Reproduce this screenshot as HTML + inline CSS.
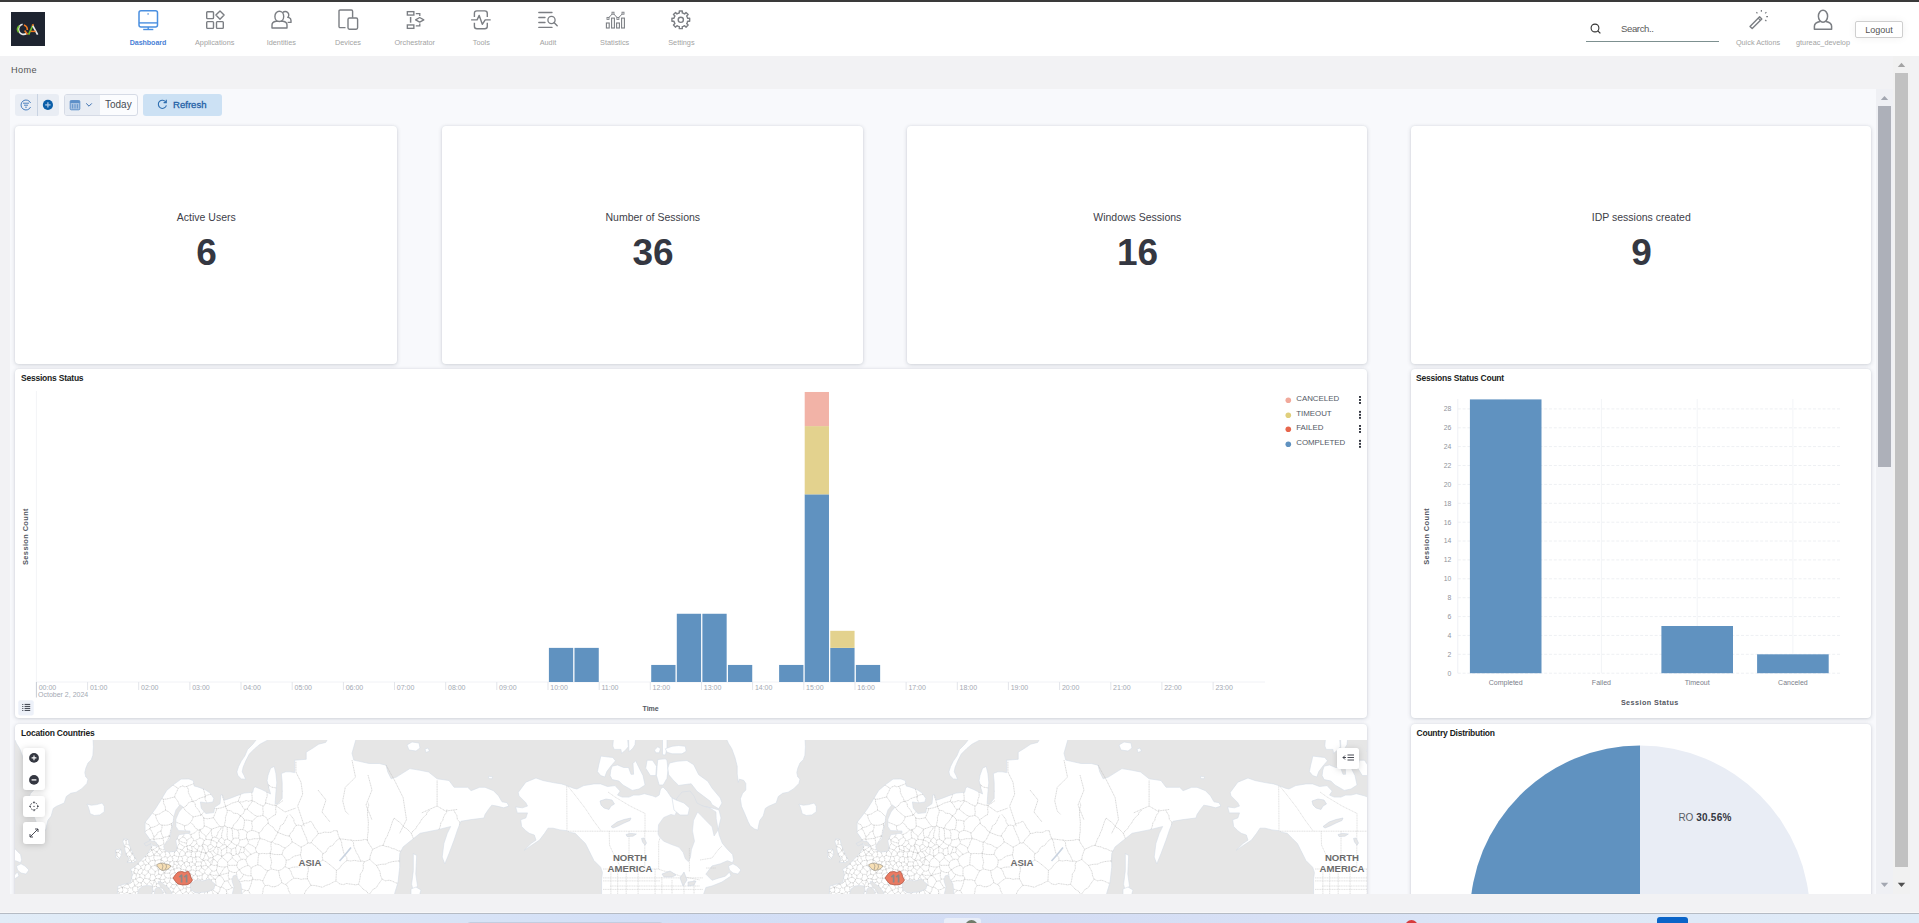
<!DOCTYPE html><html><head><meta charset="utf-8"><title>Dashboard</title><style>

*{box-sizing:border-box;margin:0;padding:0}
html,body{width:1919px;height:923px;overflow:hidden;background:#f2f2f4;font-family:"Liberation Sans",sans-serif;color:#343741}
.a{position:absolute}
.nl{position:absolute;top:37.8px;width:66px;text-align:center;font-size:7.3px;line-height:9px;color:#9a9a9a;white-space:nowrap}
.ni{position:absolute;top:9px}
.card{position:absolute;background:#fff;border-radius:4px;box-shadow:0 1px 4px rgba(60,70,90,.2),0 0 2px rgba(60,70,90,.09)}
.stl{position:absolute;left:0;right:0;text-align:center;font-size:11px;line-height:13px;color:#343741}
.stv{position:absolute;left:0;right:0;text-align:center;font-size:37px;line-height:40px;font-weight:bold;color:#343741}
.ct{position:absolute;left:6px;top:3px;font-size:8.5px;font-weight:bold;color:#1a1c21;white-space:nowrap}

</style></head><body>
<div class="a" style="left:0;top:0;width:1919px;height:2px;background:#3a3a3a"></div>
<div class="a" style="left:0;top:2px;width:1919px;height:54px;background:#fff"></div>
<div class="a" style="left:11px;top:12px;width:34px;height:34px;background:#1e2430"></div>
<svg class="a" style="left:11px;top:12px" width="34" height="34" viewBox="0 0 34 34">
<path d="M11.6 12.3 A5.1 5.1 0 1 0 15.5 21.5" fill="none" stroke="#e9e9e9" stroke-width="1.6"/>
<path d="M8.2 13.8 A5.1 5.1 0 0 0 7.6 20.4" fill="none" stroke="#6fbe2c" stroke-width="1.6"/>
<path d="M13 13 A5.1 5.1 0 0 1 16.3 18" fill="none" stroke="#f07a22" stroke-width="1.6"/>
<path d="M13.6 18.6 L16.6 22.4" stroke="#f07a22" stroke-width="1.6"/>
<path d="M17.6 22.6 L22 13" stroke="#6fbe2c" stroke-width="1.7"/>
<path d="M21.6 13.4 L26.6 22.6" stroke="#e9e9e9" stroke-width="1.7"/>
<path d="M19.6 19.4 L24.6 19.4" stroke="#f07a22" stroke-width="1.4"/>
<path d="M21 13.6 L22.6 12.4" stroke="#f07a22" stroke-width="1.4"/>
</svg>
<svg class="ni" style="left:137.8px" width="22" height="22" viewBox="0 0 22 22"><g transform="translate(0 0.7)"><rect x="1" y="1" width="18.5" height="16.2" rx="2" fill="none" stroke="#4a8fe0" stroke-width="1.5"/>
<line x1="1" y1="13.2" x2="19.5" y2="13.2" stroke="#4a8fe0" stroke-width="1.4"/>
<rect x="9.4" y="3.6" width="1.4" height="1.3" fill="#4a8fe0"/>
<line x1="10.2" y1="17.2" x2="10.2" y2="19.6" stroke="#4a8fe0" stroke-width="1.4"/>
<line x1="5.2" y1="19.8" x2="15.3" y2="19.8" stroke="#4a8fe0" stroke-width="1.4"/></g></svg>
<div class="nl" style="left:115.0px;color:#4a7fd6;font-weight:bold;font-size:7.1px;letter-spacing:-0.05px;top:38.6px">Dashboard</div>
<svg class="ni" style="left:204.5px" width="22" height="22" viewBox="0 0 22 22"><g transform="translate(0.7 0.8)"><rect x="1" y="2" width="6.8" height="6.8" rx=".8" fill="none" stroke="#7b7e83" stroke-width="1.4"/>
<rect x="1" y="11.8" width="6.8" height="6.8" rx=".8" fill="none" stroke="#7b7e83" stroke-width="1.4"/>
<rect x="10.8" y="11.8" width="6.8" height="6.8" rx=".8" fill="none" stroke="#7b7e83" stroke-width="1.4"/>
<path d="M14.3 1.2 L18.4 5.3 L14.3 9.4 L10.2 5.3 Z" fill="none" stroke="#7b7e83" stroke-width="1.4" stroke-linejoin="round"/></g></svg>
<div class="nl" style="left:181.7px;color:#a3a3a3;font-weight:normal;font-size:7.3px">Applications</div>
<svg class="ni" style="left:271.1px" width="22" height="22" viewBox="0 0 22 22"><g transform=""><path d="M1 19 L1 16 Q1 12.8 5 12.2 L12 12.2 Q16 12.8 16 16 L16 19 Z" fill="none" stroke="#7b7e83" stroke-width="1.4" stroke-linejoin="round"/>
<ellipse cx="8.3" cy="7.4" rx="4.4" ry="5.1" fill="#fff" stroke="#7b7e83" stroke-width="1.4"/>
<path d="M11.8 3.6 A3.4 3.4 0 1 1 16.8 8.4 L18 8.6 Q20 9.4 20 11.4 L20 13.4 L16.6 13.4" fill="none" stroke="#7b7e83" stroke-width="1.4" stroke-linejoin="round"/></g></svg>
<div class="nl" style="left:248.3px;color:#a3a3a3;font-weight:normal;font-size:7.3px">Identities</div>
<svg class="ni" style="left:337.8px" width="22" height="22" viewBox="0 0 22 22"><g transform=""><path d="M7.5 18.6 L2.2 18.6 Q1 18.6 1 17.4 L1 2.2 Q1 1 2.2 1 L13.4 1 Q14.6 1 14.6 2.2 L14.6 8.8" fill="none" stroke="#7b7e83" stroke-width="1.4"/>
<rect x="10" y="9" width="9.6" height="11.2" rx="1.4" fill="none" stroke="#7b7e83" stroke-width="1.4"/></g></svg>
<div class="nl" style="left:315.0px;color:#a3a3a3;font-weight:normal;font-size:7.3px">Devices</div>
<svg class="ni" style="left:404.5px" width="22" height="22" viewBox="0 0 22 22"><g transform=""><rect x="2.35" y="2.65" width="6.5" height="3.4" fill="none" stroke="#7b7e83" stroke-width="1.35"/>
<rect x="2.35" y="15.95" width="6.5" height="3.4" fill="none" stroke="#7b7e83" stroke-width="1.35"/>
<line x1="5.6" y1="8" x2="5.6" y2="13.7" stroke="#7b7e83" stroke-width="1.5"/>
<path d="M10.8 4.6 L14.8 4.6 L14.8 6.9 M10.8 16.8 L14.8 16.8 L14.8 14.6" fill="none" stroke="#7b7e83" stroke-width="1.3"/>
<path d="M10.6 10.85 L14.7 8.55 L18.8 10.85 L14.7 13.15 Z" fill="none" stroke="#7b7e83" stroke-width="1.3" stroke-linejoin="round"/></g></svg>
<div class="nl" style="left:381.7px;color:#a3a3a3;font-weight:normal;font-size:7.3px">Orchestrator</div>
<svg class="ni" style="left:471.2px" width="22" height="22" viewBox="0 0 22 22"><g transform=""><path d="M3.4 8 L3.4 4.4 Q3.4 1.9 5.9 1.9 L13.8 1.9 Q16.3 1.9 16.3 4.4 L16.3 8 M16.3 13.7 L16.3 17.3 Q16.3 19.8 13.8 19.8 L5.9 19.8 Q3.4 19.8 3.4 17.3 L3.4 13.7" fill="none" stroke="#7b7e83" stroke-width="1.4"/>
<path d="M0.1 10.85 L6.1 10.85 L8.2 6.4 L11.3 15.3 L14.2 10.85 L19.7 10.85" fill="none" stroke="#7b7e83" stroke-width="1.4" stroke-linejoin="round"/></g></svg>
<div class="nl" style="left:448.4px;color:#a3a3a3;font-weight:normal;font-size:7.3px">Tools</div>
<svg class="ni" style="left:537.8px" width="22" height="22" viewBox="0 0 22 22"><g transform=""><line x1="0.8" y1="3.5" x2="14" y2="3.5" stroke="#7b7e83" stroke-width="1.3" stroke-linecap="round"/>
<line x1="0.8" y1="8.5" x2="7" y2="8.5" stroke="#7b7e83" stroke-width="1.3" stroke-linecap="round"/>
<line x1="0.8" y1="13.5" x2="7" y2="13.5" stroke="#7b7e83" stroke-width="1.3" stroke-linecap="round"/>
<line x1="0.8" y1="18.4" x2="14" y2="18.4" stroke="#7b7e83" stroke-width="1.3" stroke-linecap="round"/>
<circle cx="13.5" cy="10.95" r="3.6" fill="none" stroke="#7b7e83" stroke-width="1.3"/>
<line x1="16" y1="13.6" x2="19.2" y2="16.8" stroke="#7b7e83" stroke-width="1.4" stroke-linecap="round"/></g></svg>
<div class="nl" style="left:515.0px;color:#a3a3a3;font-weight:normal;font-size:7.3px">Audit</div>
<svg class="ni" style="left:604.5px" width="22" height="22" viewBox="0 0 22 22"><g transform=""><rect x="1.4" y="14" width="2.8" height="5" fill="none" stroke="#7b7e83" stroke-width="1.1"/>
<rect x="6.6" y="9.1" width="2.8" height="9.9" fill="none" stroke="#7b7e83" stroke-width="1.1"/>
<rect x="11.6" y="14" width="2.8" height="5" fill="none" stroke="#7b7e83" stroke-width="1.1"/>
<rect x="16.6" y="9.1" width="2.8" height="9.9" fill="none" stroke="#7b7e83" stroke-width="1.1"/>
<path d="M3 9.4 L8 4.2 L12.9 9.4 L18 4.2" fill="none" stroke="#7b7e83" stroke-width="1"/>
<rect x="2" y="8.4" width="2" height="2" fill="#fff" stroke="#7b7e83" stroke-width=".9"/>
<rect x="7" y="3.2" width="2" height="2" fill="#fff" stroke="#7b7e83" stroke-width=".9"/>
<rect x="11.9" y="8.4" width="2" height="2" fill="#fff" stroke="#7b7e83" stroke-width=".9"/>
<rect x="17" y="3.2" width="2" height="2" fill="#fff" stroke="#7b7e83" stroke-width=".9"/></g></svg>
<div class="nl" style="left:581.7px;color:#a3a3a3;font-weight:normal;font-size:7.3px">Statistics</div>
<svg class="ni" style="left:671.2px" width="22" height="22" viewBox="0 0 22 22"><g transform=""><path d="M16.39 8.45 L16.65 9.34 L18.67 9.30 L18.67 12.30 L16.65 12.26 L16.13 13.80 L15.67 14.61 L17.14 16.01 L15.01 18.14 L13.61 16.67 L12.15 17.39 L11.26 17.65 L11.30 19.67 L8.30 19.67 L8.34 17.65 L6.80 17.13 L5.99 16.67 L4.59 18.14 L2.46 16.01 L3.93 14.61 L3.21 13.15 L2.95 12.26 L0.93 12.30 L0.93 9.30 L2.95 9.34 L3.47 7.80 L3.93 6.99 L2.46 5.59 L4.59 3.46 L5.99 4.93 L7.45 4.21 L8.34 3.95 L8.30 1.93 L11.30 1.93 L11.26 3.95 L12.80 4.47 L13.61 4.93 L15.01 3.46 L17.14 5.59 L15.67 6.99 Z" fill="none" stroke="#7b7e83" stroke-width="1.4" stroke-linejoin="round"/>
<circle cx="9.8" cy="10.8" r="2.6" fill="none" stroke="#7b7e83" stroke-width="1.4"/></g></svg>
<div class="nl" style="left:648.4px;color:#a3a3a3;font-weight:normal;font-size:7.3px">Settings</div>
<svg class="a" style="left:1590px;top:23px" width="12" height="12" viewBox="0 0 12 12">
<circle cx="5" cy="5" r="3.9" fill="none" stroke="#333" stroke-width="1.1"/><line x1="7.8" y1="7.8" x2="10.4" y2="10.4" stroke="#333" stroke-width="1.2"/></svg>
<div class="a" style="left:1621px;top:23.3px;font-size:9.6px;line-height:12px;color:#5a5a5a;letter-spacing:-0.4px">Search..</div>
<div class="a" style="left:1586px;top:40.5px;width:133px;height:1.3px;background:#7d9090"></div>
<svg class="a" style="left:1748px;top:9px" width="21" height="21" viewBox="0 0 21 21">
<path d="M2 17.4 L11.6 7.8 L13.8 10 L4.2 19.6 Z" fill="none" stroke="#7b7e83" stroke-width="1.4" stroke-linejoin="round"/>
<line x1="10.2" y1="9.2" x2="12.4" y2="11.4" stroke="#7b7e83" stroke-width="1.2"/>
<line x1="13.4" y1="1" x2="13.4" y2="2.8" stroke="#7b7e83" stroke-width="1.2"/>
<line x1="8.4" y1="3.2" x2="9.4" y2="4.4" stroke="#7b7e83" stroke-width="1.2"/>
<line x1="18.4" y1="3.2" x2="17.2" y2="4.4" stroke="#7b7e83" stroke-width="1.2"/>
<line x1="18.2" y1="7.6" x2="20" y2="7.6" stroke="#7b7e83" stroke-width="1.2"/>
<line x1="17.2" y1="11" x2="18.4" y2="12.2" stroke="#7b7e83" stroke-width="1.2"/></svg>
<div class="nl" style="left:1725px;width:66px;color:#a3a3a3">Quick Actions</div>
<svg class="a" style="left:1812px;top:9px" width="22" height="22" viewBox="0 0 22 22">
<ellipse cx="11" cy="7.2" rx="4.6" ry="6" fill="none" stroke="#7b7e83" stroke-width="1.5"/>
<path d="M8 12.4 Q2.4 13.6 2.4 17.2 L2.4 20.2 L19.6 20.2 L19.6 17.2 Q19.6 13.6 14 12.4" fill="none" stroke="#7b7e83" stroke-width="1.5" stroke-linejoin="round"/></svg>
<div class="nl" style="left:1790px;width:66px;color:#a3a3a3">gtureac_develop</div>
<div class="a" style="left:1855px;top:21px;width:48px;height:17px;border:1px solid #cfcfcf;border-radius:2px;background:#fff;box-shadow:0 0 8px rgba(0,0,0,.06);font-size:9px;line-height:15px;padding-top:1px;text-align:center;color:#555">Logout</div>
<div class="a" style="left:11px;top:65px;font-size:9.2px;line-height:11px;color:#555;letter-spacing:.35px">Home</div>
<div class="a" style="left:10px;top:89px;width:1866px;height:805px;background:#f8f9fc"></div>
<div class="a" style="left:15px;top:94px;width:44px;height:22px;background:#e9edf4;border-radius:3px"></div>
<div class="a" style="left:37px;top:94px;width:1px;height:22px;background:#c9d3e2"></div>
<svg class="a" style="left:20px;top:99px" width="12" height="12" viewBox="0 0 12 12">
<path d="M10.6 4 A5 5 0 1 0 10.6 8" fill="none" stroke="#4a80bf" stroke-width="1"/>
<line x1="3" y1="4.2" x2="9" y2="4.2" stroke="#4a80bf" stroke-width="1"/>
<line x1="4" y1="6.2" x2="8" y2="6.2" stroke="#4a80bf" stroke-width="1"/>
<line x1="5.2" y1="8.2" x2="6.8" y2="8.2" stroke="#4a80bf" stroke-width="1"/></svg>
<svg class="a" style="left:42px;top:99px" width="12" height="12" viewBox="0 0 12 12">
<circle cx="5.9" cy="5.9" r="5.1" fill="#0b5ea8"/>
<line x1="3.2" y1="5.9" x2="8.6" y2="5.9" stroke="#a9c6e6" stroke-width="1.3"/>
<line x1="5.9" y1="3.2" x2="5.9" y2="8.6" stroke="#a9c6e6" stroke-width="1.3"/></svg>
<div class="a" style="left:64px;top:94px;width:74px;height:22px;background:#fbfcfe;border:1px solid #d6dbe6;border-radius:3px"></div>
<div class="a" style="left:65px;top:95px;width:35px;height:20px;background:#e9edf4;border-radius:2px 0 0 2px"></div>
<svg class="a" style="left:69px;top:99px" width="12" height="12" viewBox="0 0 12 12">
<rect x="1.2" y="1.6" width="9.6" height="9.2" rx="1" fill="#a7c2e2" stroke="#5d8fc8" stroke-width="1"/>
<rect x="1.2" y="1.6" width="9.6" height="2.4" fill="#5d8fc8"/>
<line x1="3.6" y1="5.2" x2="3.6" y2="9.4" stroke="#5d8fc8" stroke-width=".9"/>
<line x1="6" y1="5.2" x2="6" y2="9.4" stroke="#5d8fc8" stroke-width=".9"/>
<line x1="8.4" y1="5.2" x2="8.4" y2="9.4" stroke="#5d8fc8" stroke-width=".9"/></svg>
<svg class="a" style="left:85px;top:102px" width="8" height="6" viewBox="0 0 8 6">
<path d="M1.2 1.4 L4 4.2 L6.8 1.4" fill="none" stroke="#3a6fb0" stroke-width="1"/></svg>
<div class="a" style="left:105px;top:99.4px;font-size:10px;line-height:12px;color:#474b54">Today</div>
<div class="a" style="left:143px;top:94px;width:79px;height:22px;background:#cce1f4;border-radius:3px"></div>
<svg class="a" style="left:157px;top:99px" width="11" height="11" viewBox="0 0 11 11">
<path d="M8.9 3.1 A4.1 4.1 0 1 0 9.4 6.4" fill="none" stroke="#2c6db0" stroke-width="1.1"/>
<path d="M9.3 0.8 L9.3 3.6 L6.6 3.6" fill="none" stroke="#2c6db0" stroke-width="1.1"/></svg>
<div class="a" style="left:173px;top:99px;font-size:9.6px;line-height:12px;color:#1f5fa6;font-weight:normal;-webkit-text-stroke:0.3px #1f5fa6;letter-spacing:0px">Refresh</div>
<div class="card" style="left:15px;top:126px;width:382px;height:238px"></div>
<div class="card" style="left:442px;top:126px;width:421px;height:238px"></div>
<div class="card" style="left:907px;top:126px;width:460px;height:238px"></div>
<div class="card" style="left:1411px;top:126px;width:460px;height:238px"></div>
<div class="card" style="left:15px;top:369px;width:1352px;height:349px"></div>
<div class="card" style="left:1411px;top:369px;width:460px;height:349px"></div>
<svg class="a" style="left:0;top:0" width="1919" height="923" viewBox="0 0 1919 923" font-family="Liberation Sans, sans-serif">
<text x="206.3" y="221" font-size="10.5" fill="#3d4048" text-anchor="middle">Active Users</text>
<text x="206.5" y="264.6" font-size="37" font-weight="bold" fill="#343741" text-anchor="middle">6</text>
<text x="652.8" y="221" font-size="10.5" fill="#3d4048" text-anchor="middle">Number of Sessions</text>
<text x="653.0" y="264.6" font-size="37" font-weight="bold" fill="#343741" text-anchor="middle">36</text>
<text x="1137.3" y="221" font-size="10.5" fill="#3d4048" text-anchor="middle">Windows Sessions</text>
<text x="1137.5" y="264.6" font-size="37" font-weight="bold" fill="#343741" text-anchor="middle">16</text>
<text x="1641.3" y="221" font-size="10.5" fill="#3d4048" text-anchor="middle">IDP sessions created</text>
<text x="1641.5" y="264.6" font-size="37" font-weight="bold" fill="#343741" text-anchor="middle">9</text>
<text x="21" y="380.6" font-size="8.5" font-weight="bold" fill="#1a1c21" letter-spacing="-0.22">Sessions Status</text>
<text x="1416" y="380.6" font-size="8.5" font-weight="bold" fill="#1a1c21" letter-spacing="-0.22">Sessions Status Count</text>
<line x1="36.4" y1="391" x2="36.4" y2="682.0" stroke="#f3f4f7" stroke-width="1"/>
<line x1="36.4" y1="682.0" x2="1265" y2="682.0" stroke="#f1f2f6" stroke-width="1"/>
<line x1="36.4" y1="682.0" x2="36.4" y2="697.5" stroke="#c8ccd4" stroke-width="1"/>
<text x="38.7" y="689.6" font-size="7" fill="#a4a9b3">00:00</text>
<line x1="87.6" y1="682.0" x2="87.6" y2="690" stroke="#e3e5ea" stroke-width="1"/>
<text x="89.9" y="689.6" font-size="7" fill="#a4a9b3">01:00</text>
<line x1="138.7" y1="682.0" x2="138.7" y2="690" stroke="#e3e5ea" stroke-width="1"/>
<text x="141.0" y="689.6" font-size="7" fill="#a4a9b3">02:00</text>
<line x1="189.9" y1="682.0" x2="189.9" y2="690" stroke="#e3e5ea" stroke-width="1"/>
<text x="192.2" y="689.6" font-size="7" fill="#a4a9b3">03:00</text>
<line x1="241.0" y1="682.0" x2="241.0" y2="690" stroke="#e3e5ea" stroke-width="1"/>
<text x="243.3" y="689.6" font-size="7" fill="#a4a9b3">04:00</text>
<line x1="292.2" y1="682.0" x2="292.2" y2="690" stroke="#e3e5ea" stroke-width="1"/>
<text x="294.5" y="689.6" font-size="7" fill="#a4a9b3">05:00</text>
<line x1="343.4" y1="682.0" x2="343.4" y2="690" stroke="#e3e5ea" stroke-width="1"/>
<text x="345.7" y="689.6" font-size="7" fill="#a4a9b3">06:00</text>
<line x1="394.5" y1="682.0" x2="394.5" y2="690" stroke="#e3e5ea" stroke-width="1"/>
<text x="396.8" y="689.6" font-size="7" fill="#a4a9b3">07:00</text>
<line x1="445.7" y1="682.0" x2="445.7" y2="690" stroke="#e3e5ea" stroke-width="1"/>
<text x="448.0" y="689.6" font-size="7" fill="#a4a9b3">08:00</text>
<line x1="496.8" y1="682.0" x2="496.8" y2="690" stroke="#e3e5ea" stroke-width="1"/>
<text x="499.1" y="689.6" font-size="7" fill="#a4a9b3">09:00</text>
<line x1="548.0" y1="682.0" x2="548.0" y2="690" stroke="#e3e5ea" stroke-width="1"/>
<text x="550.3" y="689.6" font-size="7" fill="#a4a9b3">10:00</text>
<line x1="599.2" y1="682.0" x2="599.2" y2="690" stroke="#e3e5ea" stroke-width="1"/>
<text x="601.5" y="689.6" font-size="7" fill="#a4a9b3">11:00</text>
<line x1="650.3" y1="682.0" x2="650.3" y2="690" stroke="#e3e5ea" stroke-width="1"/>
<text x="652.6" y="689.6" font-size="7" fill="#a4a9b3">12:00</text>
<line x1="701.5" y1="682.0" x2="701.5" y2="690" stroke="#e3e5ea" stroke-width="1"/>
<text x="703.8" y="689.6" font-size="7" fill="#a4a9b3">13:00</text>
<line x1="752.6" y1="682.0" x2="752.6" y2="690" stroke="#e3e5ea" stroke-width="1"/>
<text x="754.9" y="689.6" font-size="7" fill="#a4a9b3">14:00</text>
<line x1="803.8" y1="682.0" x2="803.8" y2="690" stroke="#e3e5ea" stroke-width="1"/>
<text x="806.1" y="689.6" font-size="7" fill="#a4a9b3">15:00</text>
<line x1="855.0" y1="682.0" x2="855.0" y2="690" stroke="#e3e5ea" stroke-width="1"/>
<text x="857.3" y="689.6" font-size="7" fill="#a4a9b3">16:00</text>
<line x1="906.1" y1="682.0" x2="906.1" y2="690" stroke="#e3e5ea" stroke-width="1"/>
<text x="908.4" y="689.6" font-size="7" fill="#a4a9b3">17:00</text>
<line x1="957.3" y1="682.0" x2="957.3" y2="690" stroke="#e3e5ea" stroke-width="1"/>
<text x="959.6" y="689.6" font-size="7" fill="#a4a9b3">18:00</text>
<line x1="1008.4" y1="682.0" x2="1008.4" y2="690" stroke="#e3e5ea" stroke-width="1"/>
<text x="1010.7" y="689.6" font-size="7" fill="#a4a9b3">19:00</text>
<line x1="1059.6" y1="682.0" x2="1059.6" y2="690" stroke="#e3e5ea" stroke-width="1"/>
<text x="1061.9" y="689.6" font-size="7" fill="#a4a9b3">20:00</text>
<line x1="1110.8" y1="682.0" x2="1110.8" y2="690" stroke="#e3e5ea" stroke-width="1"/>
<text x="1113.1" y="689.6" font-size="7" fill="#a4a9b3">21:00</text>
<line x1="1161.9" y1="682.0" x2="1161.9" y2="690" stroke="#e3e5ea" stroke-width="1"/>
<text x="1164.2" y="689.6" font-size="7" fill="#a4a9b3">22:00</text>
<line x1="1213.1" y1="682.0" x2="1213.1" y2="690" stroke="#e3e5ea" stroke-width="1"/>
<text x="1215.4" y="689.6" font-size="7" fill="#a4a9b3">23:00</text>
<text x="38" y="697" font-size="7" fill="#a4a9b3">October 2, 2024</text>
<rect x="548.90" y="647.88" width="24.28" height="34.12" fill="#6092c0"/>
<rect x="574.48" y="647.88" width="24.28" height="34.12" fill="#6092c0"/>
<rect x="651.22" y="664.94" width="24.28" height="17.06" fill="#6092c0"/>
<rect x="676.80" y="613.76" width="24.28" height="68.24" fill="#6092c0"/>
<rect x="702.38" y="613.76" width="24.28" height="68.24" fill="#6092c0"/>
<rect x="727.96" y="664.94" width="24.28" height="17.06" fill="#6092c0"/>
<rect x="779.12" y="664.94" width="24.28" height="17.06" fill="#6092c0"/>
<rect x="804.70" y="494.34" width="24.28" height="187.66" fill="#6092c0"/>
<rect x="804.70" y="426.10" width="24.28" height="68.24" fill="#e3d28e"/>
<rect x="804.70" y="391.98" width="24.28" height="34.12" fill="#f2b3a7"/>
<rect x="830.28" y="647.88" width="24.28" height="34.12" fill="#6092c0"/>
<rect x="830.28" y="630.82" width="24.28" height="17.06" fill="#e3d28e"/>
<rect x="855.86" y="664.94" width="24.28" height="17.06" fill="#6092c0"/>
<text x="650.6" y="711" font-size="7" font-weight="bold" fill="#545862" text-anchor="middle">Time</text>
<text transform="translate(28.2 536.5) rotate(-90)" font-size="7.4" font-weight="bold" fill="#545862" text-anchor="middle" letter-spacing=".4">Session Count</text>
<circle cx="1288.3" cy="400.3" r="2.8" fill="#f1a99b"/>
<text x="1296.2" y="401.3" font-size="7.9" fill="#535966">CANCELED</text>
<rect x="1359" y="396.0" width="2" height="1.9" fill="#343741"/>
<rect x="1359" y="399.0" width="2" height="1.9" fill="#343741"/>
<rect x="1359" y="402.0" width="2" height="1.9" fill="#343741"/>
<circle cx="1288.3" cy="415.2" r="2.8" fill="#e0cf7c"/>
<text x="1296.2" y="416.2" font-size="7.9" fill="#535966">TIMEOUT</text>
<rect x="1359" y="410.9" width="2" height="1.9" fill="#343741"/>
<rect x="1359" y="413.9" width="2" height="1.9" fill="#343741"/>
<rect x="1359" y="416.9" width="2" height="1.9" fill="#343741"/>
<circle cx="1288.3" cy="429.3" r="2.8" fill="#e7664c"/>
<text x="1296.2" y="430.3" font-size="7.9" fill="#535966">FAILED</text>
<rect x="1359" y="425.0" width="2" height="1.9" fill="#343741"/>
<rect x="1359" y="428.0" width="2" height="1.9" fill="#343741"/>
<rect x="1359" y="431.0" width="2" height="1.9" fill="#343741"/>
<circle cx="1288.3" cy="444.2" r="2.8" fill="#6092c0"/>
<text x="1296.2" y="445.2" font-size="7.9" fill="#535966">COMPLETED</text>
<rect x="1359" y="439.9" width="2" height="1.9" fill="#343741"/>
<rect x="1359" y="442.9" width="2" height="1.9" fill="#343741"/>
<rect x="1359" y="445.9" width="2" height="1.9" fill="#343741"/>
<rect x="18.3" y="700.3" width="15.4" height="15.1" rx="2" fill="#edf1f9"/>
<rect x="22" y="704.0" width="1.4" height="0.9" fill="#5a5f6a"/>
<rect x="24.6" y="703.9" width="5.6" height="1.1" fill="#4a4f5a"/>
<rect x="22" y="706.0" width="1.4" height="0.9" fill="#5a5f6a"/>
<rect x="24.6" y="705.9" width="5.6" height="1.1" fill="#4a4f5a"/>
<rect x="22" y="708.0" width="1.4" height="0.9" fill="#5a5f6a"/>
<rect x="24.6" y="707.9" width="5.6" height="1.1" fill="#4a4f5a"/>
<rect x="22" y="710.0" width="1.4" height="0.9" fill="#5a5f6a"/>
<rect x="24.6" y="709.9" width="5.6" height="1.1" fill="#4a4f5a"/>
<line x1="1457.8" y1="399" x2="1457.8" y2="673.2" stroke="#eef0f5" stroke-width="1"/>
<line x1="1457.8" y1="673.2" x2="1840.8" y2="673.2" stroke="#eef0f3" stroke-width="1" stroke-dasharray="3 1.8"/>
<text x="1451.2" y="675.6" font-size="6.8" fill="#8f939b" text-anchor="end">0</text>
<line x1="1457.8" y1="654.3" x2="1840.8" y2="654.3" stroke="#eef0f3" stroke-width="1" stroke-dasharray="3 1.8"/>
<text x="1451.2" y="656.7" font-size="6.8" fill="#8f939b" text-anchor="end">2</text>
<line x1="1457.8" y1="635.4" x2="1840.8" y2="635.4" stroke="#eef0f3" stroke-width="1" stroke-dasharray="3 1.8"/>
<text x="1451.2" y="637.8" font-size="6.8" fill="#8f939b" text-anchor="end">4</text>
<line x1="1457.8" y1="616.6" x2="1840.8" y2="616.6" stroke="#eef0f3" stroke-width="1" stroke-dasharray="3 1.8"/>
<text x="1451.2" y="619.0" font-size="6.8" fill="#8f939b" text-anchor="end">6</text>
<line x1="1457.8" y1="597.7" x2="1840.8" y2="597.7" stroke="#eef0f3" stroke-width="1" stroke-dasharray="3 1.8"/>
<text x="1451.2" y="600.1" font-size="6.8" fill="#8f939b" text-anchor="end">8</text>
<line x1="1457.8" y1="578.8" x2="1840.8" y2="578.8" stroke="#eef0f3" stroke-width="1" stroke-dasharray="3 1.8"/>
<text x="1451.2" y="581.2" font-size="6.8" fill="#8f939b" text-anchor="end">10</text>
<line x1="1457.8" y1="559.9" x2="1840.8" y2="559.9" stroke="#eef0f3" stroke-width="1" stroke-dasharray="3 1.8"/>
<text x="1451.2" y="562.3" font-size="6.8" fill="#8f939b" text-anchor="end">12</text>
<line x1="1457.8" y1="541.0" x2="1840.8" y2="541.0" stroke="#eef0f3" stroke-width="1" stroke-dasharray="3 1.8"/>
<text x="1451.2" y="543.4" font-size="6.8" fill="#8f939b" text-anchor="end">14</text>
<line x1="1457.8" y1="522.2" x2="1840.8" y2="522.2" stroke="#eef0f3" stroke-width="1" stroke-dasharray="3 1.8"/>
<text x="1451.2" y="524.6" font-size="6.8" fill="#8f939b" text-anchor="end">16</text>
<line x1="1457.8" y1="503.3" x2="1840.8" y2="503.3" stroke="#eef0f3" stroke-width="1" stroke-dasharray="3 1.8"/>
<text x="1451.2" y="505.7" font-size="6.8" fill="#8f939b" text-anchor="end">18</text>
<line x1="1457.8" y1="484.4" x2="1840.8" y2="484.4" stroke="#eef0f3" stroke-width="1" stroke-dasharray="3 1.8"/>
<text x="1451.2" y="486.8" font-size="6.8" fill="#8f939b" text-anchor="end">20</text>
<line x1="1457.8" y1="465.5" x2="1840.8" y2="465.5" stroke="#eef0f3" stroke-width="1" stroke-dasharray="3 1.8"/>
<text x="1451.2" y="467.9" font-size="6.8" fill="#8f939b" text-anchor="end">22</text>
<line x1="1457.8" y1="446.6" x2="1840.8" y2="446.6" stroke="#eef0f3" stroke-width="1" stroke-dasharray="3 1.8"/>
<text x="1451.2" y="449.0" font-size="6.8" fill="#8f939b" text-anchor="end">24</text>
<line x1="1457.8" y1="427.8" x2="1840.8" y2="427.8" stroke="#eef0f3" stroke-width="1" stroke-dasharray="3 1.8"/>
<text x="1451.2" y="430.2" font-size="6.8" fill="#8f939b" text-anchor="end">26</text>
<line x1="1457.8" y1="408.9" x2="1840.8" y2="408.9" stroke="#eef0f3" stroke-width="1" stroke-dasharray="3 1.8"/>
<text x="1451.2" y="411.3" font-size="6.8" fill="#8f939b" text-anchor="end">28</text>
<line x1="1505.7" y1="399" x2="1505.7" y2="673.2" stroke="#f2f4f7" stroke-width="1"/>
<line x1="1601.4" y1="399" x2="1601.4" y2="673.2" stroke="#f2f4f7" stroke-width="1"/>
<line x1="1697.2" y1="399" x2="1697.2" y2="673.2" stroke="#f2f4f7" stroke-width="1"/>
<line x1="1792.9" y1="399" x2="1792.9" y2="673.2" stroke="#f2f4f7" stroke-width="1"/>
<rect x="1469.9" y="399.4" width="71.6" height="273.8" fill="#6092c0"/>
<text x="1505.7" y="684.8" font-size="7" fill="#7b808a" text-anchor="middle">Completed</text>
<text x="1601.4" y="684.8" font-size="7" fill="#7b808a" text-anchor="middle">Failed</text>
<rect x="1661.4" y="626.0" width="71.6" height="47.2" fill="#6092c0"/>
<text x="1697.2" y="684.8" font-size="7" fill="#7b808a" text-anchor="middle">Timeout</text>
<rect x="1757.1" y="654.3" width="71.6" height="18.9" fill="#6092c0"/>
<text x="1792.9" y="684.8" font-size="7" fill="#7b808a" text-anchor="middle">Canceled</text>
<text x="1649.8" y="704.8" font-size="7.2" font-weight="bold" fill="#545862" text-anchor="middle" letter-spacing=".45">Session Status</text>
<text transform="translate(1429.3 536.3) rotate(-90)" font-size="7.4" font-weight="bold" fill="#545862" text-anchor="middle" letter-spacing=".4">Session Count</text>
</svg>
<div class="a" style="left:0;top:0;width:1876px;height:894px;overflow:hidden">
<div class="card" style="left:15px;top:724px;width:1352px;height:260px"></div>
<div class="card" style="left:1411px;top:724px;width:460px;height:260px"></div>
<svg class="a" style="left:0;top:0" width="1876" height="894" viewBox="0 0 1876 894" font-family="Liberation Sans, sans-serif">
<text x="21" y="735.8" font-size="8.5" font-weight="bold" fill="#1a1c21" letter-spacing="-0.22">Location Countries</text>
<text x="1416.5" y="735.8" font-size="8.5" font-weight="bold" fill="#1a1c21" letter-spacing="-0.22">Country Distribution</text>
<defs><clipPath id="mc"><rect x="15" y="740" width="1352" height="160"/></clipPath><g id="tile"><path d="M92.9 735.0 L93.4 746.7 L92.9 755.3 L91.3 759.7 L88.0 762.9 L85.8 768.3 L84.8 772.7 L85.8 777.0 L88.0 779.2 L86.9 783.5 L81.5 788.9 L76.1 792.2 L70.7 793.3 L66.3 796.5 L64.2 803.0 L56.6 806.3 L53.3 808.4 L51.2 816.0 L47.9 820.3 L46.8 824.7 L45.8 830.1 L42.5 829.0 L38.2 825.8 L36.0 821.4 L32.8 813.8 L29.5 806.3 L28.4 798.7 L30.6 793.3 L33.8 790.0 L33.8 783.5 L31.7 780.3 L27.3 779.2 L26.3 782.4 L25.2 773.8 L25.2 766.2 L23.0 757.5 L19.8 748.8 L16.5 743.4 L12.7 735.0 Z" fill="#fff" stroke="#d3dbe6" stroke-width=".6"/>
<path d="M86.9 804.1 L91.3 805.2 L96.7 804.6 L102.1 803.0 L104.3 806.3 L104.3 811.7 L99.9 814.9 L94.5 815.5 L90.2 813.8 L89.1 809.5 L88.0 806.3 Z" fill="#fff" stroke="#d3dbe6" stroke-width=".6"/>
<path d="M124.0 838.6 L128.1 839.6 L129.2 844.8 L131.3 850.0 L134.4 856.3 L136.5 860.4 L133.4 862.5 L127.1 862.5 L129.2 858.4 L126.1 855.2 L125.0 850.0 L124.0 844.8 L122.9 841.7 Z" fill="#fff" stroke="#d3dbe6" stroke-width=".6"/>
<path d="M115.6 850.0 L120.8 849.0 L121.9 854.2 L118.8 859.4 L115.6 857.3 Z" fill="#fff" stroke="#d3dbe6" stroke-width=".6"/>
<path d="M117.0 900.0 L117.9 886.0 L123.9 884.3 L130.7 882.6 L132.4 874.1 L130.7 869.0 L134.1 867.3 L137.5 863.9 L144.3 857.1 L148.0 853.0 L150.5 848.5 L151.5 845.5 L149.2 838.3 L145.1 832.6 L145.1 822.3 L149.2 817.2 L155.3 809.0 L160.5 800.7 L166.7 790.4 L173.9 784.3 L181.1 779.1 L188.9 778.9 L193.3 780.6 L194.2 786.0 L197.8 786.9 L204.9 789.5 L210.2 793.1 L213.8 798.4 L212.9 802.0 L206.7 802.9 L200.4 802.0 L201.3 808.2 L205.8 813.5 L213.8 812.6 L214.6 807.3 L220.0 803.7 L220.9 794.9 L222.6 794.9 L224.4 800.2 L229.8 798.4 L236.9 795.7 L244.0 793.1 L252.8 792.2 L253.7 787.8 L255.5 786.9 L261.7 789.5 L265.3 791.3 L270.6 794.0 L268.8 787.8 L267.1 780.6 L268.0 775.3 L270.6 768.2 L274.2 766.4 L275.9 773.5 L276.8 782.4 L276.0 791.3 L275.1 803.7 L277.7 803.7 L282.2 798.4 L282.2 782.4 L281.3 773.5 L285.7 771.8 L290.2 771.8 L294.6 772.6 L294.6 760.2 L306.2 759.3 L306.2 752.2 L313.3 747.8 L318.6 744.2 L325.7 742.4 L330.1 735.0 L357.2 735.0 L352.0 753.3 L353.8 760.1 L369.1 763.5 L379.3 763.5 L386.1 765.2 L387.8 772.0 L391.2 778.8 L396.3 777.1 L409.9 768.6 L420.1 770.3 L428.6 772.0 L437.1 778.8 L449.0 780.5 L454.1 787.3 L467.7 787.3 L471.1 790.7 L479.6 787.3 L485.0 787.3 L493.5 790.7 L498.6 795.9 L502.0 801.8 L507.1 802.7 L508.8 806.1 L503.7 807.8 L496.9 806.1 L491.8 805.2 L488.4 809.5 L485.0 814.6 L484.0 818.0 L471.1 819.6 L460.9 821.3 L457.5 829.9 L454.1 840.1 L449.0 853.7 L444.8 863.9 L442.2 857.1 L443.9 843.5 L447.3 833.3 L450.7 826.5 L437.1 829.9 L420.1 833.3 L411.6 840.1 L403.1 846.9 L399.7 853.7 L399.7 867.3 L398.0 882.6 L394.6 893.6 L394.0 900.0 Z" fill="#fff" stroke="#d3dbe6" stroke-width=".6"/>
<path d="M260.0 735.0 L267.5 735.0 L267.5 740.2 L260.0 744.2 L254.6 748.7 L249.3 754.0 L245.7 761.1 L243.1 767.3 L242.2 771.8 L244.0 775.3 L245.7 779.3 L241.3 778.9 L237.7 775.3 L236.9 771.8 L238.6 766.4 L241.3 761.1 L244.9 755.8 L247.5 749.5 L252.8 744.2 Z" fill="#fff" stroke="#d3dbe6" stroke-width=".6"/>
<path d="M407.0 745.0 L412.0 742.0 L419.0 743.0 L420.0 748.0 L416.0 751.0 L409.0 750.0 Z" fill="#fff" stroke="#d3dbe6" stroke-width=".6"/>
<path d="M425.0 749.0 L428.0 748.0 L429.5 751.0 L426.0 752.5 Z" fill="#fff" stroke="#d3dbe6" stroke-width=".6"/>
<path d="M413.3 853.7 L416.7 855.4 L415.8 874.1 L417.5 886.0 L413.3 891.1 L411.6 884.3 L413.3 870.7 Z" fill="#fff" stroke="#d3dbe6" stroke-width=".6"/>
<path d="M411.0 889.0 L416.0 887.0 L421.0 890.0 L419.0 897.0 L411.0 897.0 Z" fill="#fff" stroke="#d3dbe6" stroke-width=".6"/>
<path d="M488.4 776.3 L492.7 776.8 L492.0 778.8 L488.8 778.6 Z" fill="#fff" stroke="#d3dbe6" stroke-width=".6"/>
<path d="M518.2 792.5 L525.8 782.2 L536.0 778.0 L542.9 780.5 L553.1 782.6 L561.6 783.9 L566.7 785.6 L573.5 788.2 L576.9 789.0 L583.7 785.6 L593.9 783.9 L600.7 783.9 L607.5 786.5 L615.0 785.6 L620.2 791.1 L617.5 795.1 L622.2 797.1 L628.9 797.1 L633.6 795.1 L639.0 795.1 L644.4 793.7 L652.4 795.8 L655.8 797.1 L659.2 795.1 L660.5 789.0 L663.0 787.0 L667.0 791.0 L671.0 797.0 L676.0 800.0 L690.0 805.0 L702.0 806.0 L712.0 808.0 L719.0 810.0 L721.0 818.0 L719.0 826.0 L718.2 829.8 L719.2 835.0 L722.3 843.2 L727.5 849.4 L732.6 854.5 L733.6 859.7 L732.6 862.8 L727.5 860.7 L720.3 863.8 L712.0 865.9 L705.9 874.1 L712.0 880.3 L718.2 878.2 L725.4 876.2 L729.5 872.0 L731.0 876.0 L722.0 882.0 L712.0 886.0 L705.9 887.5 L701.7 900.0 L601.6 900.0 L601.6 879.2 L602.4 872.4 L600.7 867.3 L593.9 860.5 L588.8 850.3 L585.4 843.5 L580.3 838.4 L575.2 833.3 L570.1 832.4 L566.7 830.7 L559.9 829.9 L553.1 828.2 L548.0 828.2 L544.6 833.3 L539.5 840.1 L529.2 846.9 L524.1 850.3 L531.0 843.5 L536.0 840.1 L534.3 835.0 L529.2 833.3 L525.8 830.7 L521.6 826.5 L520.7 819.7 L525.8 818.0 L527.5 812.9 L517.3 812.9 L515.6 806.9 L522.4 807.8 L527.5 806.1 L525.8 802.7 L519.0 795.9 Z" fill="#fff" stroke="#d3dbe6" stroke-width=".6"/>
<path d="M728.5 866.0 L733.0 863.8 L737.0 866.0 L740.9 870.0 L738.0 874.1 L733.0 873.0 L729.5 870.0 Z" fill="#fff" stroke="#d3dbe6" stroke-width=".6"/>
<clipPath id="landclip"><path d="M117.0 900.0 L117.9 886.0 L123.9 884.3 L130.7 882.6 L132.4 874.1 L130.7 869.0 L134.1 867.3 L137.5 863.9 L144.3 857.1 L148.0 853.0 L150.5 848.5 L151.5 845.5 L149.2 838.3 L145.1 832.6 L145.1 822.3 L149.2 817.2 L155.3 809.0 L160.5 800.7 L166.7 790.4 L173.9 784.3 L181.1 779.1 L188.9 778.9 L193.3 780.6 L194.2 786.0 L197.8 786.9 L204.9 789.5 L210.2 793.1 L213.8 798.4 L212.9 802.0 L206.7 802.9 L200.4 802.0 L201.3 808.2 L205.8 813.5 L213.8 812.6 L214.6 807.3 L220.0 803.7 L220.9 794.9 L222.6 794.9 L224.4 800.2 L229.8 798.4 L236.9 795.7 L244.0 793.1 L252.8 792.2 L253.7 787.8 L255.5 786.9 L261.7 789.5 L265.3 791.3 L270.6 794.0 L268.8 787.8 L267.1 780.6 L268.0 775.3 L270.6 768.2 L274.2 766.4 L275.9 773.5 L276.8 782.4 L276.0 791.3 L275.1 803.7 L277.7 803.7 L282.2 798.4 L282.2 782.4 L281.3 773.5 L285.7 771.8 L290.2 771.8 L294.6 772.6 L294.6 760.2 L306.2 759.3 L306.2 752.2 L313.3 747.8 L318.6 744.2 L325.7 742.4 L330.1 735.0 L357.2 735.0 L352.0 753.3 L353.8 760.1 L369.1 763.5 L379.3 763.5 L386.1 765.2 L387.8 772.0 L391.2 778.8 L396.3 777.1 L409.9 768.6 L420.1 770.3 L428.6 772.0 L437.1 778.8 L449.0 780.5 L454.1 787.3 L467.7 787.3 L471.1 790.7 L479.6 787.3 L485.0 787.3 L493.5 790.7 L498.6 795.9 L502.0 801.8 L507.1 802.7 L508.8 806.1 L503.7 807.8 L496.9 806.1 L491.8 805.2 L488.4 809.5 L485.0 814.6 L484.0 818.0 L471.1 819.6 L460.9 821.3 L457.5 829.9 L454.1 840.1 L449.0 853.7 L444.8 863.9 L442.2 857.1 L443.9 843.5 L447.3 833.3 L450.7 826.5 L437.1 829.9 L420.1 833.3 L411.6 840.1 L403.1 846.9 L399.7 853.7 L399.7 867.3 L398.0 882.6 L394.6 893.6 L394.0 900.0 Z M518.2 792.5 L525.8 782.2 L536.0 778.0 L542.9 780.5 L553.1 782.6 L561.6 783.9 L566.7 785.6 L573.5 788.2 L576.9 789.0 L583.7 785.6 L593.9 783.9 L600.7 783.9 L607.5 786.5 L615.0 785.6 L620.2 791.1 L617.5 795.1 L622.2 797.1 L628.9 797.1 L633.6 795.1 L639.0 795.1 L644.4 793.7 L652.4 795.8 L655.8 797.1 L659.2 795.1 L660.5 789.0 L663.0 787.0 L667.0 791.0 L671.0 797.0 L676.0 800.0 L690.0 805.0 L702.0 806.0 L712.0 808.0 L719.0 810.0 L721.0 818.0 L719.0 826.0 L718.2 829.8 L719.2 835.0 L722.3 843.2 L727.5 849.4 L732.6 854.5 L733.6 859.7 L732.6 862.8 L727.5 860.7 L720.3 863.8 L712.0 865.9 L705.9 874.1 L712.0 880.3 L718.2 878.2 L725.4 876.2 L729.5 872.0 L731.0 876.0 L722.0 882.0 L712.0 886.0 L705.9 887.5 L701.7 900.0 L601.6 900.0 L601.6 879.2 L602.4 872.4 L600.7 867.3 L593.9 860.5 L588.8 850.3 L585.4 843.5 L580.3 838.4 L575.2 833.3 L570.1 832.4 L566.7 830.7 L559.9 829.9 L553.1 828.2 L548.0 828.2 L544.6 833.3 L539.5 840.1 L529.2 846.9 L524.1 850.3 L531.0 843.5 L536.0 840.1 L534.3 835.0 L529.2 833.3 L525.8 830.7 L521.6 826.5 L520.7 819.7 L525.8 818.0 L527.5 812.9 L517.3 812.9 L515.6 806.9 L522.4 807.8 L527.5 806.1 L525.8 802.7 L519.0 795.9 Z M124.0 838.6 L128.1 839.6 L129.2 844.8 L131.3 850.0 L134.4 856.3 L136.5 860.4 L133.4 862.5 L127.1 862.5 L129.2 858.4 L126.1 855.2 L125.0 850.0 L124.0 844.8 L122.9 841.7 Z M115.6 850.0 L120.8 849.0 L121.9 854.2 L118.8 859.4 L115.6 857.3 Z"/></clipPath>
<path d="M453.9 810.4 L455.1 812.8 L456.8 815.3 L457.4 819.6 L459.7 821.9 L459.7 824.2 L460.9 826.9 L462.2 829.6 L464.5 832.4 L465.0 836.5 L466.6 838.4 L467.5 841.9 L469.7 844.4 L471.0 846.5 L471.7 850.1 L474.1 853.3 L474.7 855.6 M499.9 822.3 L498.2 824.9 L495.3 828.1 L493.4 829.4 L492.5 833.1 L490.7 835.0 L487.8 836.9 L486.9 841.0 L484.0 843.4 L482.3 845.1 L480.5 847.1 L478.5 850.0 L476.9 853.0 L474.7 855.6 M467.1 893.2 L468.3 890.7 L468.0 886.6 L469.7 883.8 L468.9 879.9 L471.0 877.7 L470.1 874.4 L471.5 871.2 L472.8 868.8 L472.2 864.4 L473.2 862.4 L474.2 859.1 L474.7 855.6 M150.5 811.4 L150.5 807.4 L150.7 803.5 L150.0 800.7 M150.5 811.4 L148.1 813.3 L145.1 816.9 L142.5 818.4 M116.0 788.0 L118.9 788.3 L121.6 790.3 L123.8 790.8 L126.6 792.3 L130.0 793.3 L132.7 794.6 L135.3 796.0 L139.4 796.4 L141.5 798.1 L144.0 799.1 L146.8 800.0 L150.0 800.7 M142.5 818.4 L139.0 819.1 L136.8 818.7 L133.4 820.0 L129.8 820.4 M119.7 814.7 L122.8 816.4 L125.7 818.1 L129.8 820.4 M367.3 840.0 L367.6 836.3 L367.7 834.5 L368.3 831.3 L368.1 827.1 L368.4 824.0 L368.3 822.0 L368.0 818.3 L367.4 815.2 L367.6 811.4 L367.4 809.4 L368.8 805.2 L368.1 802.7 M367.3 840.0 L368.3 842.7 L370.3 845.7 L372.6 849.3 M372.6 849.3 L376.2 847.8 L379.5 846.1 L383.0 845.3 M383.0 845.3 L384.5 841.9 L385.3 839.2 L387.4 835.8 L388.3 832.9 L389.8 830.0 L390.4 827.8 L391.9 823.5 L392.3 821.9 L394.1 818.1 M429.7 810.3 L426.9 812.6 L426.4 814.7 L423.1 817.6 L420.9 820.6 L419.7 822.9 L416.9 826.3 L416.0 828.4 L412.9 831.0 L411.4 833.5 M394.1 818.1 L396.8 820.2 L399.6 822.3 L401.5 824.1 L404.1 827.3 L406.8 828.7 L409.7 831.7 L411.4 833.5 M361.1 861.3 L357.5 861.0 L354.5 860.4 L350.7 861.0 L347.0 860.5 M361.1 861.3 L359.7 858.9 L358.2 855.2 L356.5 852.9 L355.2 849.5 L353.9 846.9 L353.4 842.4 L351.2 840.1 M347.0 860.5 L346.8 857.6 L344.3 854.3 L343.3 851.3 L342.6 848.0 L341.8 845.3 L341.7 842.7 L340.2 839.0 M351.2 840.1 L347.3 839.8 L343.1 839.1 L340.2 839.0 M367.3 840.0 L364.8 839.4 L361.4 840.3 L357.3 840.5 L354.1 840.7 L351.2 840.1 M364.4 861.7 L362.1 860.9 L361.1 861.3 M369.8 859.4 L367.5 860.5 L364.4 861.7 M369.8 859.4 L370.2 856.0 L371.4 852.7 L372.6 849.3 M116.3 883.0 L113.6 882.3 L110.1 880.5 M116.3 883.0 L116.0 881.3 L117.0 879.2 M117.0 879.2 L116.3 878.4 L114.0 877.6 M110.1 880.5 L112.5 878.4 L114.0 877.6 M161.0 765.8 L162.9 769.1 L164.2 772.6 L165.5 774.6 L166.5 778.0 L167.4 781.7 M161.0 765.8 L159.2 768.3 L158.4 771.5 L157.6 773.2 L155.0 776.5 L154.7 779.5 L152.8 782.2 M167.4 781.7 L165.5 784.6 L163.8 786.3 L160.9 789.0 L160.2 791.7 L157.7 793.9 M152.8 782.2 L153.3 785.0 L155.1 788.2 L156.6 791.7 L157.7 793.9 M116.0 788.0 L118.8 787.3 L122.3 787.6 L125.5 786.5 L128.8 786.0 L132.1 785.2 L133.8 785.6 L137.2 785.2 L140.7 784.1 L143.0 784.1 L146.0 783.9 L150.4 782.4 L152.8 782.2 M150.0 800.7 L153.1 799.4 L157.4 796.9 M157.4 796.9 L157.5 794.8 L157.7 793.9 M114.2 838.5 L116.0 840.2 L117.7 842.6 M114.2 838.5 L115.7 835.2 L118.0 832.0 L119.0 828.0 M117.7 842.6 L120.0 840.8 L123.5 839.1 M119.0 828.0 L120.4 832.5 L121.3 835.4 L123.5 839.1 M119.7 814.7 L120.1 817.9 L118.9 821.5 L118.8 825.4 L119.0 828.0 M107.1 840.6 L110.0 839.1 L114.2 838.5 M155.6 814.9 L156.2 818.2 L157.8 821.5 L159.4 823.8 M150.5 811.4 L153.7 813.9 L155.6 814.9 M142.5 818.4 L144.1 819.9 L146.3 823.7 L148.9 824.6 L150.5 827.6 M150.5 827.6 L153.8 827.0 L157.2 825.4 L159.4 823.8 M398.9 883.2 L396.1 883.0 L392.0 881.0 L389.2 880.2 L385.3 880.8 L382.2 879.2 M382.2 879.2 L380.1 881.9 L378.5 884.1 L376.3 887.7 L373.1 889.3 L370.5 892.8 L368.9 894.8 M364.4 861.7 L363.1 864.2 L363.4 868.3 L362.2 871.7 L360.3 873.9 L360.2 877.1 L359.4 881.4 L358.5 884.2 M358.5 884.2 L361.3 887.0 L363.0 889.1 L366.9 891.5 L368.9 894.8 M376.5 865.4 L378.0 868.1 L380.0 871.8 L380.6 875.8 L382.2 879.2 M369.8 859.4 L373.5 863.1 L376.5 865.4 M399.1 861.0 L400.8 863.7 L401.1 867.3 L403.8 869.3 L404.8 872.5 L405.6 876.1 L407.0 879.1 M399.1 861.0 L399.9 858.5 L400.6 854.2 L400.9 851.1 M400.9 851.1 L403.9 848.9 L406.1 846.6 L408.8 844.4 L411.1 842.0 L414.2 840.4 M414.2 840.4 L416.8 841.5 L420.2 843.7 L422.2 844.7 L425.8 845.7 L428.0 847.2 L430.7 848.6 M430.7 848.6 L432.7 851.9 L433.6 854.4 L436.2 856.6 L437.9 859.3 L439.1 861.5 L440.8 863.7 L443.2 865.7 L443.9 869.2 L446.9 871.5 L447.9 874.0 L449.2 876.5 L451.8 879.0 L453.3 880.8 L455.5 883.7 L456.9 886.3 M456.9 886.3 L454.1 885.6 L450.0 885.5 L447.7 885.6 L445.0 883.8 L441.7 883.7 L438.5 883.4 L434.8 883.1 L432.0 883.0 L429.0 882.5 L425.5 882.1 L422.3 881.5 L419.4 881.0 L415.6 880.4 L412.8 879.8 L409.4 879.8 L407.0 879.1 M376.5 865.4 L380.4 864.5 L382.3 864.3 L385.6 864.1 L388.8 862.6 L392.7 861.6 L395.6 861.2 L399.1 861.0 M398.9 883.2 L401.9 882.6 L404.1 880.9 L407.0 879.1 M383.0 845.3 L385.4 846.4 L388.9 846.9 L392.5 848.6 L394.3 848.8 L398.4 850.9 L400.9 851.1 M411.4 833.5 L413.0 837.6 L414.2 840.4 M446.9 809.5 L446.5 812.7 L444.8 814.6 L443.2 818.1 L442.9 820.3 L440.9 822.7 L440.3 826.2 L439.3 828.6 L437.9 832.1 L436.4 834.1 L435.2 837.8 L433.7 839.6 L432.9 842.6 L432.3 846.3 L430.7 848.6 M467.1 893.2 L465.2 892.0 L462.2 889.3 L459.9 888.4 L456.9 886.3 M339.9 884.0 L338.4 882.8 L336.0 880.9 M336.0 880.9 L333.2 882.2 L329.6 884.2 L325.6 885.5 L322.5 887.3 M347.0 860.5 L343.8 862.9 L341.5 865.3 L339.6 868.2 L336.4 870.4 M358.5 884.2 L355.7 884.9 L351.8 884.2 L348.5 883.9 L346.8 883.4 L343.4 884.6 L339.9 884.0 M336.4 870.4 L336.3 874.4 L336.1 877.2 L336.0 880.9 M310.8 885.3 L314.7 885.5 L318.3 886.3 L322.5 887.3 M295.4 906.2 L298.1 903.3 L298.8 901.7 L300.6 899.1 L303.6 896.0 L304.9 892.6 L306.3 889.9 L308.6 887.7 L310.8 885.3 M107.1 840.6 L110.1 842.9 L112.5 845.4 L113.9 847.2 M117.7 842.6 L117.1 843.1 L117.7 843.4 M117.7 843.4 L115.3 844.5 L113.9 847.2 M113.9 847.2 L114.6 847.2 L113.9 847.8 M101.6 854.1 L104.2 851.9 L108.0 850.9 L110.0 849.7 L113.9 847.8 M117.7 843.4 L119.4 845.7 L121.8 847.2 M121.8 847.2 L118.3 848.3 L114.9 849.2 M113.9 847.8 L114.3 848.8 L114.9 849.2 M129.8 820.4 L131.3 822.4 L131.2 823.4 M131.2 823.4 L130.2 826.4 L130.2 828.8 L129.9 832.1 L130.8 835.9 L129.8 838.6 M123.5 839.1 L125.3 840.1 L126.0 840.5 M126.0 840.5 L127.6 839.4 L129.8 838.6 M121.8 847.2 L121.8 846.9 L121.9 847.2 M123.6 847.3 L122.6 847.7 L121.9 847.2 M124.8 846.7 L124.8 844.9 L126.0 843.9 M124.8 846.7 L124.2 847.3 L123.6 847.3 M126.0 840.5 L126.2 842.6 L126.0 843.9 M199.2 895.1 L199.6 895.1 L201.4 896.1 M199.2 895.1 L198.7 894.2 L198.9 894.1 M198.9 894.1 L200.3 893.1 L200.8 890.4 M200.8 890.4 L203.4 889.9 L205.4 890.8 M201.4 896.1 L201.5 896.5 L202.2 895.9 M202.2 895.9 L204.5 893.5 L205.4 890.8 M199.2 887.5 L197.8 887.1 L196.8 887.2 M196.8 887.2 L196.5 888.3 L195.7 888.3 M198.9 894.1 L197.2 892.4 L196.0 891.8 M200.8 890.4 L199.2 888.4 L199.2 887.5 M196.0 891.8 L196.4 890.2 L195.7 888.3 M196.1 884.0 L197.2 884.9 L196.8 887.2 M191.7 883.2 L190.8 885.8 L190.4 887.5 M190.4 887.5 L191.0 887.1 L191.2 888.2 M195.0 882.7 L193.2 883.1 L191.7 883.2 M195.0 882.7 L195.9 883.3 L196.1 884.0 M195.7 888.3 L192.9 889.0 L191.2 888.2 M274.8 886.7 L271.5 886.7 L268.4 885.3 L265.1 885.6 M258.7 905.1 L259.4 901.1 L260.4 898.1 L261.8 895.0 L262.8 892.6 L263.3 888.2 L265.1 885.6 M295.4 906.2 L294.5 903.1 L292.6 899.6 L291.4 896.4 L290.5 894.3 L288.3 889.9 L287.9 887.2 L285.9 884.4 M274.8 886.7 L278.5 885.2 L281.7 882.6 M285.9 884.4 L284.3 884.1 L281.7 882.6 M339.6 838.3 L339.9 839.2 L340.2 839.0 M339.6 838.3 L337.1 840.2 L334.7 842.5 L332.8 845.5 L329.4 846.6 L327.4 849.3 L325.9 852.2 L322.8 853.7 M336.4 870.4 L334.5 868.7 L331.3 865.9 L328.1 863.4 L326.1 861.8 L322.9 860.1 M322.8 853.7 L322.2 856.6 L322.9 860.1 M339.6 838.3 L338.2 834.9 L337.3 830.8 M157.4 796.9 L159.6 797.6 L163.4 799.2 M155.6 814.9 L159.6 813.9 L162.5 811.9 L165.6 810.3 M163.4 799.2 L163.7 803.5 L165.3 806.6 L165.6 810.3 M113.8 895.4 L112.9 893.8 L113.0 893.0 M143.8 897.5 L142.7 896.4 L142.0 895.9 M137.8 897.6 L139.2 896.6 L142.0 895.9 M101.6 854.1 L104.6 854.3 L107.7 855.2 M114.9 849.2 L115.5 850.7 L116.4 852.7 M107.7 855.2 L110.4 854.6 L113.5 853.0 L116.4 852.7 M114.0 877.6 L114.7 876.5 L114.6 875.4 M112.3 872.3 L113.4 874.2 L114.6 875.4 M117.0 879.2 L118.6 879.4 L119.5 878.5 M114.6 875.4 L117.0 875.1 L118.4 874.3 M119.5 878.5 L119.3 875.8 L118.4 874.3 M112.3 872.3 L114.0 870.1 L115.0 868.6 M115.0 868.6 L115.7 868.4 L117.1 869.5 M117.1 869.5 L117.7 870.9 L118.7 873.8 M118.4 874.3 L118.8 874.4 L118.7 873.8 M153.8 836.7 L154.1 837.2 L153.5 838.9 M153.8 836.7 L156.4 835.3 L157.8 832.4 L160.9 831.0 M160.9 831.0 L161.7 834.2 L163.2 837.6 M154.0 839.3 L157.9 838.8 L162.9 838.3 M154.0 839.3 L153.5 839.3 L153.5 838.9 M163.2 837.6 L163.1 838.2 L162.9 838.3 M159.4 823.8 L160.4 824.8 L162.1 825.1 M162.1 825.1 L161.9 828.4 L160.9 831.0 M150.5 827.6 L149.6 828.8 L150.1 828.6 M150.1 828.6 L152.1 832.2 L153.8 836.7 M150.0 839.9 L149.3 839.7 L148.8 839.4 M150.0 839.9 L151.8 839.0 L153.5 838.9 M150.1 828.6 L146.6 830.4 L143.9 832.7 M148.8 839.4 L146.8 836.0 L143.9 832.7 M129.8 838.6 L130.8 839.4 L133.3 840.5 M133.3 840.5 L135.7 838.1 L139.1 837.4 M131.2 823.4 L134.1 825.5 L135.5 827.9 L136.9 831.2 L139.8 832.9 M139.1 837.4 L140.1 834.6 L139.8 832.9 M139.8 832.9 L141.7 832.6 L143.9 832.7 M185.2 897.2 L186.2 897.0 L188.2 896.3 M199.2 895.1 L197.5 897.2 L195.0 898.5 M206.0 897.7 L204.4 896.1 L202.2 895.9 M188.8 895.5 L190.2 895.5 L192.4 895.4 M188.8 895.5 L188.8 894.3 L188.2 893.4 M188.2 893.4 L189.5 892.4 L191.0 890.2 M191.0 890.2 L191.3 891.5 L193.2 893.5 M192.4 895.4 L192.5 895.3 L193.2 893.5 M195.0 898.5 L193.3 896.2 L192.4 895.4 M188.2 896.3 L188.4 896.1 L188.8 895.5 M196.0 891.8 L194.0 893.2 L193.2 893.5 M191.2 888.2 L190.6 889.5 L191.0 890.2 M206.0 897.7 L206.9 897.2 L208.8 895.4 M205.7 890.7 L206.1 891.6 L207.5 891.8 M205.4 890.8 L206.1 890.3 L205.7 890.7 M207.5 891.8 L207.5 893.7 L208.8 895.4 M310.8 885.3 L309.2 882.0 L307.5 878.9 M322.9 860.1 L320.4 861.5 L316.9 863.0 L313.9 864.3 L310.5 865.6 L308.1 867.3 M307.5 878.9 L307.3 874.6 L308.4 870.6 L308.1 867.3 M285.9 884.4 L288.1 882.4 L291.0 880.0 L294.0 878.3 M307.5 878.9 L304.0 878.8 L301.1 879.4 L298.0 878.4 L294.0 878.3 M267.7 870.7 L266.0 874.0 L264.0 878.2 L262.8 880.9 M265.1 885.6 L263.3 882.8 L262.8 880.9 M281.7 882.6 L281.2 879.8 L279.8 877.4 L279.2 873.9 L278.6 870.7 M267.7 870.7 L268.8 870.4 L271.1 868.9 M271.1 868.9 L274.3 869.7 L278.6 870.7 M270.4 853.5 L274.9 854.5 L278.8 854.6 L282.1 854.4 M282.1 854.4 L283.2 850.5 L285.2 848.0 M271.3 842.4 L270.9 845.3 L271.4 848.9 L270.3 853.3 M270.4 853.5 L270.0 852.9 L270.3 853.3 M271.3 842.4 L271.0 842.0 L272.2 841.6 M272.2 841.6 L274.8 843.8 L279.0 844.6 L282.5 846.9 L285.2 848.0 M120.4 883.9 L120.8 886.1 L121.8 887.2 M120.4 883.9 L119.3 884.0 L116.8 883.7 M121.8 887.2 L118.8 888.7 L116.4 888.9 M116.8 883.7 L116.6 885.1 L114.9 887.0 M114.9 887.0 L115.0 888.5 L116.4 888.9 M116.3 883.0 L116.8 882.9 L116.8 883.7 M119.5 878.5 L120.8 878.9 L122.0 879.9 M122.1 880.5 L122.7 880.0 L122.0 879.9 M122.1 880.5 L120.7 881.5 L120.4 883.9 M116.4 891.3 L114.4 892.9 L113.0 893.0 M116.4 891.3 L115.9 890.0 L116.4 888.9 M116.4 891.3 L118.5 891.4 L119.1 893.1 M113.8 895.4 L115.5 896.6 L117.9 896.7 M119.1 893.1 L117.8 895.6 L117.9 896.7 M121.1 898.7 L120.1 897.2 L118.0 897.0 M118.0 897.0 L118.1 896.9 L117.9 896.7 M121.9 847.2 L120.5 849.6 L118.4 852.5 M116.4 852.7 L116.4 852.4 L116.7 852.9 M118.4 852.5 L117.2 852.2 L116.7 852.9 M115.0 868.6 L115.4 868.6 L114.6 867.4 M107.1 864.8 L110.6 866.4 L114.6 867.4 M118.7 873.8 L120.8 873.1 L123.0 873.2 M123.0 873.2 L122.6 872.4 L122.7 870.2 M117.1 869.5 L118.4 869.0 L120.2 868.3 M122.7 870.2 L122.1 868.9 L120.2 868.3 M122.0 879.9 L123.1 878.4 L123.3 878.1 M123.0 873.2 L123.9 874.1 L124.1 874.0 M123.3 878.1 L124.2 876.8 L124.1 874.0 M126.8 882.8 L127.9 881.5 L128.3 878.7 M122.1 880.5 L124.1 881.7 L126.8 882.8 M123.3 878.1 L125.3 877.8 L128.3 878.7 M126.0 843.9 L128.6 844.8 L131.5 845.0 M133.3 840.5 L133.9 841.2 L133.6 843.5 M133.6 843.5 L133.3 843.9 L131.5 845.0 M136.2 845.8 L134.6 845.2 L133.6 843.5 M139.1 837.4 L140.9 839.9 L141.5 841.6 M136.2 845.8 L137.0 845.7 L138.3 845.7 M138.3 845.7 L140.4 843.4 L141.5 841.6 M148.8 839.4 L145.7 841.0 L141.5 841.6 M141.5 841.6 L141.5 842.3 L141.5 841.6 M175.0 898.0 L172.3 897.5 L170.0 896.1 M168.8 897.7 L169.7 896.7 L170.0 896.1 M151.6 894.8 L152.8 895.8 L154.0 896.5 M149.0 897.5 L150.3 895.5 L151.6 894.8 M145.8 896.6 L145.6 897.8 L143.8 897.5 M145.8 896.6 L146.6 897.8 L149.0 897.5 M289.0 868.6 L292.3 867.3 L296.1 867.0 L299.2 866.9 L302.2 864.9 L305.5 864.8 M289.0 868.6 L287.5 867.9 L285.0 866.6 M285.0 866.6 L286.1 863.0 L286.0 860.2 M286.0 860.2 L289.4 859.7 L291.6 857.8 L294.4 856.1 L297.1 855.5 L300.4 854.7 M300.4 854.7 L301.5 858.5 L303.7 861.5 L305.5 864.8 M294.0 878.3 L292.0 874.9 L291.1 871.8 L289.0 868.6 M308.1 867.3 L306.9 865.9 L305.5 864.8 M278.6 870.7 L281.9 869.3 L285.0 866.6 M270.4 853.5 L270.2 856.6 L271.0 859.0 L271.6 862.7 L270.6 866.2 L271.1 868.9 M282.1 854.4 L284.6 857.5 L286.0 860.2 M300.4 854.7 L301.4 850.2 L301.1 847.0 M285.2 848.0 L287.5 846.4 L290.4 844.1 L292.0 841.8 M292.0 841.8 L295.2 843.4 L298.2 845.4 L301.1 847.0 M247.7 758.8 L250.3 761.8 L251.9 764.3 L252.8 766.5 L255.4 768.9 L257.0 770.9 L259.8 772.6 L260.9 775.7 L263.7 777.8 L265.6 780.2 L266.7 783.1 L269.0 785.4 M247.7 758.8 L246.7 756.1 L245.9 751.8 L244.5 749.1 L242.9 745.5 M269.0 785.4 L271.6 787.1 L275.2 787.8 L278.0 788.4 L279.6 790.6 L282.9 791.3 M216.6 894.9 L214.7 894.8 L213.4 894.5 M216.6 894.9 L215.6 898.0 L215.0 902.7 L213.6 906.0 M213.4 894.5 L211.2 894.8 L210.2 895.9 M213.6 906.0 L213.0 903.3 L211.9 899.2 L210.2 895.9 M218.2 893.4 L217.9 893.7 L218.1 894.0 M218.2 893.4 L214.6 891.3 L212.1 889.2 M218.1 894.0 L216.9 893.9 L216.6 894.9 M211.6 889.9 L212.3 891.5 L213.4 894.5 M212.1 889.2 L211.8 889.8 L211.6 889.9 M223.2 897.8 L224.2 902.6 L224.7 905.8 M223.2 897.8 L221.2 896.1 L218.1 894.0 M207.5 891.8 L210.2 890.7 L211.6 889.9 M208.8 895.4 L210.0 895.3 L210.2 895.9 M140.9 882.9 L142.0 882.4 L143.1 880.4 M140.9 882.9 L140.1 882.7 L139.0 882.5 M143.3 879.5 L142.2 878.1 L140.1 877.3 M143.1 880.4 L143.7 879.2 L143.3 879.5 M140.1 877.3 L137.8 877.8 L136.3 879.4 M139.0 882.5 L137.3 881.7 L136.3 879.4 M137.8 897.6 L135.9 896.6 L135.5 896.2 M133.5 897.8 L134.6 897.3 L135.5 896.2 M120.2 868.3 L121.0 866.9 L120.9 865.8 M114.6 867.4 L115.2 865.5 L116.8 862.4 M116.8 862.4 L118.3 863.4 L120.9 865.8 M124.1 874.0 L125.4 873.8 L127.5 873.5 M128.3 878.7 L129.9 878.4 L130.0 877.3 M130.0 877.3 L128.9 875.5 L127.5 873.5 M134.8 868.1 L134.7 870.2 L133.9 872.0 M134.8 868.1 L136.5 868.4 L138.6 870.0 M138.6 870.0 L137.6 872.2 L137.6 873.5 M134.4 872.8 L134.4 872.9 L133.9 872.0 M134.4 872.8 L134.6 873.9 L136.2 873.7 M136.2 873.7 L136.7 874.3 L137.6 873.5 M133.2 880.0 L134.4 879.6 L135.3 879.2 M135.3 879.2 L136.3 876.6 L136.2 873.7 M130.5 877.5 L132.7 874.6 L134.4 872.8 M133.2 880.0 L132.0 878.5 L130.5 877.5 M139.4 874.4 L137.8 873.3 L137.6 873.5 M140.1 877.3 L139.7 875.4 L139.4 874.4 M135.3 879.2 L136.2 878.7 L136.3 879.4 M136.2 852.4 L134.9 850.9 L135.2 847.8 M136.2 852.4 L134.0 852.9 L132.4 853.4 M135.2 847.8 L132.4 848.1 L130.5 849.5 M132.4 853.4 L131.0 852.5 L129.9 850.6 M130.5 849.5 L129.4 850.4 L129.8 850.3 M129.8 850.3 L130.6 850.6 L129.9 850.6 M136.2 845.8 L135.5 846.3 L135.2 847.8 M131.5 845.0 L130.5 847.0 L130.5 849.5 M124.8 846.7 L127.9 847.7 L129.8 850.3 M185.5 874.6 L185.0 875.1 L183.7 875.1 M183.7 875.1 L181.9 875.9 L181.6 878.1 M188.1 878.8 L188.0 877.8 L187.2 876.3 M187.2 876.3 L186.0 876.0 L185.5 874.6 M188.1 878.8 L185.7 879.4 L184.2 880.2 M181.6 878.1 L182.3 879.4 L184.2 880.2 M162.5 867.7 L160.4 865.5 L159.6 864.3 M159.6 864.3 L160.8 862.3 L161.2 860.2 M164.7 865.5 L163.9 867.0 L162.5 867.7 M164.7 865.5 L164.6 863.5 L164.2 862.5 M164.2 862.5 L163.0 860.7 L161.2 860.2 M269.0 785.4 L267.9 788.9 L267.0 791.8 L267.2 796.3 L266.0 799.3 L265.6 803.0 M265.6 803.0 L268.7 803.8 L272.8 805.2 L276.3 805.2 M282.8 800.7 L278.8 803.6 L276.3 805.2 M292.0 841.8 L291.4 838.7 L289.3 836.1 M272.2 841.6 L274.5 839.1 L276.3 835.2 L277.9 832.5 M289.3 836.1 L285.7 835.5 L281.1 833.7 L277.9 832.5 M267.5 819.7 L269.3 818.7 L273.2 815.8 L275.3 815.0 M268.1 823.0 L268.2 821.7 L267.5 819.7 M268.1 823.0 L269.9 825.3 L273.2 827.2 L275.2 830.5 L277.6 831.9 M277.6 831.9 L279.5 829.2 L280.3 825.8 L283.2 824.1 L284.9 821.1 L286.2 818.3 L287.7 815.5 M322.8 853.7 L320.9 851.2 L318.2 849.2 L316.1 846.6 L312.8 844.2 L311.3 842.6 M301.1 847.0 L304.1 845.6 L308.2 843.0 M311.3 842.6 L310.1 843.2 L308.2 843.0 M337.3 830.8 L334.0 830.6 L330.9 832.3 L327.8 832.4 L324.3 832.1 L321.6 833.1 L318.2 833.6 M311.3 842.6 L313.3 839.2 L316.2 836.3 L318.2 833.6 M247.3 768.4 L247.9 771.2 L248.7 774.6 L248.8 778.6 L249.6 781.5 L249.5 784.8 L250.1 788.2 L251.4 790.8 L251.8 793.8 L252.1 796.3 L252.3 800.1 M247.3 768.4 L247.3 771.9 L245.1 774.0 L245.0 777.8 L243.5 781.1 L243.0 784.2 L242.8 786.3 L241.4 788.7 L240.1 792.6 L240.4 796.0 L238.9 799.0 L238.3 801.3 M252.3 800.1 L248.6 801.3 L246.4 800.5 L243.0 801.9 L239.1 802.0 M238.3 801.3 L239.0 802.2 L239.1 802.0 M247.7 758.8 L247.6 762.0 L247.2 765.8 L247.3 768.4 M242.9 745.5 L241.6 748.0 L239.2 751.6 M225.6 806.3 L229.2 804.7 L231.5 803.3 L235.3 802.2 L238.3 801.3 M225.6 806.3 L224.4 802.5 L223.8 800.3 L222.6 796.6 L222.5 793.3 M222.5 793.3 L223.9 789.6 L224.6 788.0 L226.9 785.0 L226.8 781.8 L228.4 777.9 L229.6 776.1 L231.5 772.3 L231.3 770.1 L234.0 766.5 L234.0 763.6 L235.9 760.5 L236.6 757.2 L237.6 753.9 L239.2 751.6 M176.5 832.8 L174.4 830.5 L172.4 827.1 L171.5 823.7 M176.5 832.8 L177.3 835.7 L177.2 839.0 M169.4 836.2 L171.3 837.5 L172.8 839.7 M169.4 836.2 L170.2 833.4 L170.7 830.0 L171.6 827.5 L171.3 823.8 M171.3 823.8 L171.5 824.0 L171.5 823.7 M172.8 839.7 L174.6 840.1 L177.2 839.0 M162.1 825.1 L165.4 825.3 L167.9 825.0 L171.3 823.8 M169.4 836.2 L165.7 837.0 L163.2 837.6 M169.4 836.2 L168.8 835.7 L169.4 836.2 M165.6 810.3 L169.0 811.9 L171.3 814.4 L174.4 817.2 M171.5 823.7 L173.3 821.7 L174.0 821.1 M174.4 817.2 L173.9 819.7 L174.0 821.1 M179.0 839.8 L178.4 839.7 L177.2 839.0 M179.0 839.8 L181.6 837.7 L182.5 837.1 M176.5 832.8 L180.6 833.6 L184.2 833.6 M182.5 837.1 L183.7 835.7 L184.2 833.6 M222.5 793.3 L218.4 793.2 L216.1 794.5 L211.8 794.0 L208.8 794.7 L205.3 795.8 M239.2 751.6 L237.4 753.5 L235.4 755.2 L232.7 757.3 L231.1 760.1 L228.0 762.9 L226.6 764.0 L224.8 766.2 L222.8 768.1 L220.7 769.9 L218.1 772.3 L215.5 775.0 L212.8 776.4 L210.7 779.4 L208.8 781.1 L206.8 782.8 L205.6 785.3 L202.8 787.4 M202.8 787.4 L204.3 791.9 L205.3 795.8 M202.8 787.4 L200.4 785.7 L196.3 784.8 L194.0 783.6 M224.7 905.8 L226.1 902.5 L229.2 901.0 L230.3 897.7 L232.3 895.8 M238.3 898.3 L237.0 896.7 L234.8 895.0 M234.8 895.0 L233.1 896.2 L232.3 895.8 M223.2 897.8 L225.5 896.4 L226.4 893.7 M232.3 895.8 L229.9 894.8 L226.4 893.7 M224.5 881.3 L222.6 884.4 L221.4 887.0 M224.5 881.3 L225.6 881.1 L227.8 880.7 M227.8 880.7 L229.2 883.4 L232.0 887.7 M221.4 887.0 L224.1 888.3 L226.1 890.1 M226.1 890.1 L229.4 889.3 L232.0 887.7 M220.3 887.3 L221.3 887.3 L221.4 887.0 M218.2 893.4 L219.8 890.6 L220.3 887.3 M226.4 893.7 L226.9 892.5 L226.1 890.1 M234.8 888.5 L232.6 887.7 L232.0 887.7 M234.8 888.5 L234.6 891.4 L234.8 895.0 M234.8 888.5 L236.0 887.8 L238.2 885.9 M238.3 898.3 L239.9 895.1 L243.3 892.5 L245.2 890.3 M238.2 885.9 L241.3 888.9 L245.2 890.3 M258.7 905.1 L257.1 902.0 L254.1 898.8 L253.4 896.7 L249.8 893.6 L248.5 890.4 M245.2 890.3 L246.6 890.7 L248.5 890.4 M207.9 805.8 L206.6 802.2 L205.2 799.4 L205.0 796.7 M205.3 795.8 L205.7 796.9 L205.0 796.7 M225.6 806.3 L225.9 806.8 L225.6 806.4 M207.9 805.8 L210.5 806.5 L214.6 808.5 L217.0 808.6 M225.6 806.4 L221.2 807.9 L217.0 808.6 M129.9 893.5 L130.6 896.1 L129.9 897.0 M129.9 893.5 L128.3 893.2 L127.2 892.4 M127.2 892.4 L125.6 893.0 L124.2 893.7 M127.5 898.9 L128.7 897.6 L129.9 897.0 M127.5 898.9 L125.2 897.3 L124.3 894.9 M124.3 894.9 L124.6 894.9 L124.2 893.7 M135.2 892.5 L134.0 891.6 L133.9 891.6 M133.9 891.6 L132.1 893.3 L129.9 893.5 M133.5 897.8 L131.7 896.9 L129.9 897.0 M135.5 896.2 L135.5 895.1 L135.2 892.5 M121.1 898.7 L123.3 897.4 L124.3 894.9 M119.1 893.1 L120.5 892.3 L122.2 892.2 M122.2 892.2 L123.8 893.4 L124.2 893.7 M142.0 895.9 L142.3 893.7 L141.5 891.8 M135.2 892.5 L136.4 891.6 L138.3 891.5 M141.5 891.8 L140.5 892.3 L138.3 891.5 M139.0 882.5 L136.7 884.7 L134.7 885.6 M133.2 880.0 L132.9 880.3 L133.0 880.9 M133.0 880.9 L134.0 882.8 L134.7 885.6 M138.3 891.5 L137.7 888.9 L137.9 887.0 M137.9 887.0 L135.9 886.4 L134.7 885.7 M133.9 891.6 L132.7 890.3 L132.7 888.0 M132.7 888.0 L133.2 886.7 L134.7 885.7 M140.9 882.9 L141.4 883.8 L141.4 885.9 M141.4 885.9 L139.5 886.6 L137.9 887.0 M134.7 885.6 L134.8 886.3 L134.7 885.7 M122.2 887.5 L125.2 885.1 L127.4 883.9 M122.2 887.5 L122.8 887.7 L122.3 887.7 M122.3 887.7 L125.4 887.8 L127.9 889.0 M127.4 883.9 L127.6 884.4 L128.0 884.2 M128.0 884.2 L129.3 886.2 L129.7 887.3 M127.9 889.0 L128.3 888.7 L129.7 887.3 M126.8 882.8 L127.2 883.6 L127.4 883.9 M121.8 887.2 L122.5 887.2 L122.2 887.5 M122.2 892.2 L122.9 890.5 L122.3 887.7 M127.2 892.4 L128.1 890.5 L127.9 889.0 M130.5 877.5 L130.3 876.9 L130.0 877.3 M133.0 880.9 L130.9 883.2 L128.0 884.2 M132.7 888.0 L130.7 888.0 L129.7 887.3 M107.1 864.8 L111.2 861.9 L114.7 860.4 M116.8 862.4 L117.4 862.2 L116.8 862.0 M116.8 862.0 L115.4 860.4 L114.7 860.4 M107.7 855.2 L111.4 857.0 L114.2 859.3 M116.7 852.9 L116.8 853.2 L116.8 854.4 M114.2 859.3 L115.7 856.7 L116.8 854.4 M114.2 859.3 L115.0 860.1 L114.7 860.4 M116.8 862.0 L118.9 860.5 L120.3 859.8 M116.8 854.4 L117.9 857.3 L120.5 859.0 M120.5 859.0 L121.1 859.6 L120.3 859.8 M120.9 865.8 L123.0 865.6 L123.7 864.6 M120.3 859.8 L121.9 860.7 L123.2 862.0 M123.7 864.6 L123.2 863.3 L123.2 862.0 M138.6 870.0 L139.4 869.1 L141.1 868.4 M134.5 866.5 L134.7 866.5 L134.8 868.1 M134.5 866.5 L136.2 864.9 L138.1 864.0 M141.1 868.4 L141.0 867.8 L140.5 866.2 M138.1 864.0 L139.5 865.4 L140.5 866.2 M150.0 839.9 L149.6 841.5 L148.8 844.0 M141.5 841.6 L143.3 844.8 L145.6 846.8 M145.6 846.8 L147.9 844.9 L148.8 844.0 M154.3 880.2 L151.3 880.8 L149.9 880.0 M154.3 880.2 L153.9 883.0 L152.4 885.4 M152.4 885.4 L151.4 883.8 L149.4 881.8 M149.9 880.0 L150.3 880.5 L149.4 881.8 M147.0 884.4 L148.1 883.4 L149.4 881.8 M143.1 880.4 L144.6 882.7 L147.0 884.4 M143.3 879.5 L143.6 879.3 L144.6 878.4 M144.6 878.4 L147.5 878.7 L149.3 879.3 M149.3 879.3 L150.4 879.8 L149.9 880.0 M147.0 887.3 L148.4 886.8 L148.9 887.9 M147.0 887.3 L144.8 888.4 L143.8 888.8 M148.9 887.9 L149.5 890.7 L148.7 893.0 M143.4 889.8 L144.3 888.6 L143.8 888.8 M143.4 889.8 L145.7 892.1 L146.8 893.3 M146.8 893.3 L148.0 893.0 L148.7 893.0 M152.6 887.0 L152.8 885.8 L152.4 885.4 M152.6 887.0 L152.4 887.8 L151.7 887.9 M151.7 887.9 L150.4 887.5 L148.9 887.9 M147.0 884.4 L146.2 885.3 L147.0 887.3 M141.4 885.9 L143.1 886.9 L143.8 888.8 M151.5 894.6 L151.5 892.7 L152.9 891.5 M151.5 894.6 L150.1 893.9 L148.7 893.0 M152.9 891.5 L152.9 890.3 L151.7 887.9 M141.5 891.8 L143.2 891.4 L143.4 889.8 M145.8 896.6 L146.2 894.4 L146.8 893.3 M151.6 894.8 L152.3 894.3 L151.5 894.6 M154.0 896.5 L155.8 895.5 L157.3 895.3 M157.3 895.3 L158.8 895.5 L159.3 896.5 M152.9 891.5 L154.8 891.2 L157.0 891.9 M157.3 895.3 L157.7 893.8 L157.0 891.9 M156.7 886.6 L154.9 886.5 L152.6 887.0 M156.7 886.6 L157.3 887.8 L158.9 887.9 M158.9 887.9 L159.1 889.3 L158.4 890.1 M157.0 891.9 L158.5 891.1 L158.4 890.1 M158.8 874.2 L156.6 875.4 L155.5 876.2 M158.8 874.2 L158.4 872.0 L158.6 869.7 M155.0 871.7 L156.5 870.8 L158.1 869.6 M155.0 871.7 L155.2 873.6 L154.1 874.4 M154.1 874.4 L154.7 875.8 L155.5 876.2 M158.6 869.7 L159.0 870.1 L158.1 869.6 M150.9 866.8 L150.9 867.9 L150.8 867.7 M150.8 867.7 L152.9 869.1 L155.0 871.7 M155.2 865.4 L155.4 866.0 L156.4 866.2 M155.2 865.4 L152.9 866.0 L150.9 866.8 M156.4 866.2 L157.1 867.4 L158.1 869.6 M161.7 869.6 L159.5 868.9 L158.6 869.7 M161.7 869.6 L162.4 868.4 L162.5 867.7 M159.6 864.3 L157.9 865.9 L156.4 866.2 M156.6 883.9 L158.6 883.3 L160.2 881.7 M156.6 883.9 L156.1 882.7 L154.7 880.1 M154.7 880.1 L154.7 879.1 L156.0 878.5 M156.0 878.5 L158.4 878.8 L159.3 879.2 M160.2 881.7 L160.5 879.9 L159.3 879.2 M156.7 886.6 L156.0 885.9 L156.6 883.9 M154.3 880.2 L154.4 880.2 L154.7 880.1 M149.3 879.3 L150.6 876.4 L150.5 874.4 M150.5 874.4 L153.1 874.3 L154.1 874.4 M155.5 876.2 L155.3 876.9 L156.0 878.5 M161.5 875.1 L160.2 874.6 L158.8 874.2 M161.5 875.1 L161.2 876.3 L159.6 879.0 M159.6 879.0 L158.7 878.5 L159.3 879.2 M183.7 875.1 L181.8 874.4 L179.6 872.9 M177.1 874.7 L177.0 875.8 L177.0 876.6 M179.6 872.9 L178.6 873.0 L177.1 874.7 M181.6 878.1 L180.3 879.1 L179.7 878.4 M177.0 876.6 L178.1 878.2 L179.7 878.4 M166.6 886.0 L166.7 884.3 L166.8 883.4 M166.6 886.0 L163.3 886.4 L161.7 887.8 M161.3 883.0 L160.5 885.1 L160.3 887.4 M161.3 883.0 L163.1 882.6 L165.1 882.1 M165.1 882.1 L165.9 882.0 L166.8 883.4 M161.7 887.8 L160.6 888.3 L160.3 887.4 M160.2 881.7 L160.0 882.7 L161.3 883.0 M158.9 887.9 L159.6 888.0 L160.3 887.4 M164.6 879.1 L164.6 880.4 L165.1 882.1 M159.6 879.0 L162.1 879.7 L164.6 879.1 M186.1 891.7 L186.9 891.9 L188.2 893.4 M186.1 891.7 L183.6 893.3 L182.6 893.7 M185.2 897.2 L183.5 896.1 L182.4 896.1 M182.6 893.7 L182.6 895.4 L182.4 896.1 M175.0 898.0 L175.7 896.1 L176.2 895.2 M170.0 896.1 L170.2 893.8 L170.7 892.1 M170.7 892.1 L171.0 892.8 L173.0 892.0 M173.0 892.0 L174.2 892.2 L175.7 893.5 M176.2 895.2 L176.5 895.1 L175.7 893.5 M176.2 895.2 L179.3 895.6 L181.4 896.8 M181.4 896.8 L181.4 896.5 L182.4 896.1 M188.7 879.2 L188.5 879.6 L188.1 878.8 M188.7 879.2 L189.6 880.4 L188.9 880.2 M184.2 880.2 L183.5 881.5 L183.3 882.6 M188.9 880.2 L187.1 882.5 L186.5 884.7 M183.3 882.6 L184.2 883.0 L186.5 884.7 M188.9 880.2 L189.7 881.4 L191.7 883.2 M190.4 887.5 L188.4 887.7 L187.0 887.3 M186.5 884.7 L186.0 885.4 L187.0 887.3 M186.1 891.7 L186.3 890.1 L186.1 888.0 M186.1 888.0 L186.9 888.0 L187.0 887.3 M164.2 872.7 L166.4 870.7 L168.1 868.4 M164.2 872.7 L163.3 870.5 L161.7 869.6 M164.7 865.5 L165.8 866.5 L167.7 866.6 M168.1 868.4 L167.4 867.6 L167.7 866.6 M164.2 862.5 L165.5 861.7 L167.6 861.0 M170.1 861.8 L169.4 861.7 L167.6 861.0 M170.1 861.8 L169.5 863.4 L169.1 865.6 M167.7 866.6 L168.9 866.4 L169.1 865.6 M170.3 855.8 L168.6 857.2 L167.0 857.4 M170.3 855.8 L171.5 857.1 L172.2 856.9 M167.6 861.0 L167.6 859.8 L167.0 857.4 M170.1 861.8 L171.4 861.6 L172.6 860.7 M172.6 860.7 L172.9 858.2 L172.2 856.9 M169.4 836.2 L168.1 839.2 L166.1 842.3 L165.5 844.7 M162.9 838.3 L163.7 841.8 L163.9 843.9 M165.5 844.7 L164.5 844.3 L163.9 843.9 M161.2 860.2 L161.8 859.9 L161.1 859.9 M167.0 857.4 L166.5 856.9 L165.0 856.8 M165.0 856.8 L162.9 857.4 L161.3 858.8 M161.1 859.9 L160.7 859.2 L161.3 858.8 M155.2 865.4 L154.8 863.6 L155.4 860.7 M161.1 859.9 L159.0 859.6 L155.4 860.7 M296.2 825.4 L294.0 821.9 L293.8 819.3 L291.9 816.9 L290.0 814.5 M296.2 825.4 L298.4 825.1 L301.5 825.7 M301.5 825.7 L304.8 823.4 L308.1 822.7 L310.6 821.1 M289.3 836.1 L290.6 832.9 L293.0 830.9 L294.2 827.8 L296.2 825.4 M277.9 832.5 L277.7 832.9 L277.6 831.9 M308.2 843.0 L307.2 840.7 L306.2 837.4 L304.8 834.6 L303.7 831.8 L302.1 828.3 L301.5 825.7 M318.2 833.6 L316.9 830.3 L314.9 828.0 L312.6 823.6 L310.6 821.1 M275.3 815.0 L276.1 812.0 L275.6 809.1 L276.3 805.2 M195.0 882.7 L195.2 880.9 L195.5 880.6 M188.7 879.2 L189.7 878.1 L192.1 877.7 M195.5 880.6 L194.0 879.7 L192.1 877.7 M225.6 806.4 L225.8 807.5 L227.2 810.2 M239.1 802.0 L241.3 804.4 L243.0 807.6 L245.0 809.7 M245.0 809.7 L243.4 813.5 L240.4 815.8 M240.4 815.8 L237.6 813.6 L233.3 813.1 L231.3 810.9 L227.2 810.2 M252.5 800.9 L250.8 803.5 L248.8 806.1 L247.1 809.2 M252.5 800.9 L255.7 802.2 L258.9 804.4 L263.0 805.9 M247.1 809.2 L249.6 811.3 L252.4 813.5 L254.5 815.1 L257.3 816.3 M263.0 805.9 L262.8 809.4 L263.3 812.1 L262.7 815.4 M262.7 815.4 L259.9 816.1 L257.3 816.3 M252.3 800.1 L251.8 800.6 L252.5 800.9 M245.0 809.7 L245.4 809.0 L247.1 809.2 M265.6 803.0 L264.5 805.2 L263.0 805.9 M267.5 819.7 L265.9 817.2 L262.7 815.4 M176.9 848.0 L178.9 849.0 L182.1 849.9 M176.9 848.0 L178.0 845.5 L179.4 843.4 M179.4 843.4 L182.4 845.4 L184.5 846.8 M184.5 846.8 L183.4 848.5 L182.2 849.9 M182.2 849.9 L182.3 850.2 L182.1 849.9 M176.3 849.9 L177.2 849.7 L176.7 848.0 M176.3 849.9 L178.6 852.7 L179.4 854.3 M179.4 854.3 L180.1 852.0 L182.1 849.9 M176.7 848.0 L177.2 847.7 L176.9 848.0 M174.9 847.3 L175.9 847.0 L176.7 848.0 M179.3 840.7 L178.9 841.9 L179.4 843.4 M179.0 839.8 L178.5 840.1 L179.3 840.7 M170.9 843.9 L172.5 846.2 L174.9 847.3 M170.9 843.9 L171.6 841.6 L172.8 839.7 M187.5 849.0 L187.7 850.6 L186.9 852.0 M186.9 852.0 L185.5 852.4 L185.4 853.7 M185.4 853.7 L184.0 851.3 L182.2 849.9 M186.9 846.1 L185.3 846.6 L184.5 846.8 M186.9 846.1 L187.2 847.2 L187.5 849.0 M174.0 821.1 L177.6 822.8 L180.3 823.8 L184.6 825.7 M184.2 833.6 L184.7 833.2 L185.9 831.6 M184.6 825.7 L184.5 828.4 L185.9 831.6 M179.3 840.7 L182.3 842.2 L186.3 843.1 M182.5 837.1 L185.1 837.9 L186.7 840.2 M186.7 840.2 L187.1 841.9 L186.3 843.1 M186.9 846.1 L186.7 846.5 L187.3 845.6 M187.3 845.6 L186.5 844.8 L186.3 843.1 M182.7 785.9 L179.8 787.0 L178.2 788.3 M182.7 785.9 L184.8 786.8 L186.8 786.4 M186.8 786.4 L188.4 789.5 L188.3 792.2 L189.9 796.1 L191.4 798.1 L192.2 801.2 M178.2 788.3 L176.8 791.6 L175.2 794.6 L174.6 797.0 M174.6 797.0 L176.6 799.6 L178.4 802.2 L179.2 804.9 L181.5 807.7 M192.2 801.2 L188.6 802.7 L186.2 806.0 L183.4 807.6 M181.5 807.7 L182.0 807.7 L183.4 807.6 M167.4 781.7 L170.9 783.9 L173.5 785.3 L175.7 786.8 L178.2 788.3 M194.0 783.6 L190.6 784.9 L186.8 786.4 M205.0 796.7 L201.8 797.5 L198.3 798.8 L196.5 800.3 L193.0 801.3 M193.0 801.3 L192.1 801.8 L192.2 801.2 M163.4 799.2 L166.4 799.1 L171.1 797.8 L174.6 797.0 M174.4 817.2 L176.6 814.6 L178.3 810.1 L181.5 807.7 M212.1 889.2 L212.3 888.2 L212.4 887.9 M220.3 887.3 L217.9 886.3 L215.8 885.2 M215.8 885.2 L214.2 886.3 L214.0 885.8 M212.4 887.9 L213.5 886.2 L214.0 885.8 M248.5 890.4 L250.1 886.9 L251.2 883.8 L252.1 879.9 M238.2 885.9 L239.3 883.2 L238.9 881.7 M238.9 881.7 L243.0 881.2 L245.0 880.6 L248.6 881.0 L252.1 879.9 M262.8 880.9 L259.4 879.7 L256.3 879.9 L252.6 879.4 M252.6 879.4 L252.8 878.9 L252.1 879.9 M127.4 856.3 L127.1 857.6 L125.5 857.7 M127.4 856.3 L126.3 854.8 L126.7 853.3 M125.5 857.7 L123.5 857.2 L122.7 856.5 M126.7 853.3 L124.6 853.8 L123.8 853.1 M122.7 856.5 L122.2 855.7 L122.6 854.3 M123.8 853.1 L123.5 853.4 L122.6 854.3 M129.9 850.6 L127.8 852.6 L126.7 853.3 M132.4 853.4 L131.6 853.5 L132.2 854.4 M132.2 854.4 L130.8 855.8 L130.0 856.9 M130.0 856.9 L128.5 856.0 L127.4 856.3 M126.1 859.9 L124.7 861.3 L123.2 862.0 M126.1 859.9 L126.1 858.8 L125.5 857.7 M120.5 859.0 L121.3 857.0 L122.7 856.5 M123.6 847.3 L123.7 850.4 L123.8 853.1 M118.4 852.5 L120.4 854.1 L122.6 854.3 M122.7 870.2 L123.6 869.5 L125.4 867.8 M123.7 864.6 L125.0 865.8 L125.6 865.7 M125.4 867.8 L126.2 866.3 L125.6 865.7 M127.5 873.5 L128.7 872.4 L128.5 871.7 M125.4 867.8 L127.2 870.5 L128.5 871.7 M133.9 872.0 L131.8 871.7 L129.4 871.2 M128.5 871.7 L128.3 871.6 L129.4 871.2 M127.7 860.8 L127.0 862.8 L127.1 865.2 M127.7 860.8 L128.9 861.2 L130.4 860.0 M130.4 860.0 L131.2 860.8 L131.6 860.9 M131.6 860.9 L131.2 862.9 L131.7 865.6 M127.1 865.2 L129.5 865.0 L130.8 866.0 M131.7 865.6 L132.0 865.7 L130.8 866.0 M126.1 859.9 L126.7 860.4 L127.7 860.8 M125.6 865.7 L126.3 865.4 L127.1 865.2 M130.0 856.9 L130.1 858.8 L130.4 860.0 M129.4 871.2 L129.7 868.0 L130.8 866.0 M134.5 866.5 L133.0 865.4 L131.7 865.6 M148.3 872.5 L146.6 873.9 L145.1 875.4 M148.3 872.5 L148.7 871.2 L148.1 871.1 M148.1 871.1 L146.2 870.8 L144.6 869.5 M145.1 875.4 L143.2 874.8 L141.9 873.1 M141.9 873.1 L142.7 870.7 L142.8 869.7 M142.8 869.7 L143.5 870.0 L144.6 869.5 M144.6 878.4 L144.9 877.2 L145.1 875.4 M150.5 874.4 L150.2 873.7 L148.3 872.5 M150.8 867.7 L149.5 870.0 L148.1 871.1 M145.8 865.0 L145.1 866.4 L144.6 869.5 M148.8 864.0 L146.9 864.6 L145.8 865.0 M150.9 866.8 L150.6 865.6 L148.8 864.0 M139.4 874.4 L140.3 874.5 L141.9 873.1 M141.1 868.4 L141.8 868.6 L142.8 869.7 M145.8 865.0 L145.1 864.4 L144.2 864.4 M140.5 866.2 L141.7 865.7 L144.2 864.4 M148.8 844.0 L150.4 846.2 L151.4 846.9 M154.0 839.3 L154.3 841.9 L155.7 843.3 M151.4 846.9 L154.0 844.7 L155.7 843.3 M163.9 843.9 L161.2 845.3 L158.7 846.2 M158.7 846.2 L158.2 845.5 L158.3 846.1 M155.7 843.3 L157.5 844.1 L158.3 846.1 M158.7 846.2 L158.8 846.8 L159.0 847.7 M157.3 851.5 L158.8 849.7 L159.0 847.7 M157.3 851.5 L155.2 851.3 L153.3 849.5 M158.3 846.1 L155.5 848.2 L153.3 849.5 M145.6 846.8 L145.1 847.6 L145.5 847.6 M151.4 846.9 L151.8 848.6 L151.4 849.3 M151.4 849.3 L148.4 848.0 L145.5 847.7 M145.5 847.6 L145.7 848.3 L145.5 847.7 M138.3 845.7 L138.8 846.2 L139.9 848.3 M145.5 847.6 L142.2 848.6 L139.9 848.3 M138.1 864.0 L137.4 863.2 L138.2 863.9 M131.6 860.9 L132.0 861.2 L133.7 860.2 M138.2 863.9 L135.8 862.3 L133.7 860.2 M132.2 854.4 L133.9 856.2 L134.9 858.2 M134.9 858.2 L134.7 859.1 L133.7 860.2 M144.2 864.4 L143.8 862.6 L143.1 861.4 M138.2 863.9 L138.2 862.5 L139.9 860.8 M143.1 861.4 L141.1 860.7 L139.9 860.8 M165.8 892.3 L165.7 892.0 L164.3 892.1 M165.8 892.3 L165.2 894.9 L166.0 897.0 M164.3 892.1 L163.2 892.3 L161.9 893.8 M166.0 897.0 L165.1 897.5 L164.8 897.7 M164.8 897.7 L162.7 897.3 L161.3 895.4 M161.9 893.8 L162.1 894.6 L161.3 895.4 M161.7 887.8 L163.7 889.2 L164.3 892.1 M168.8 890.9 L168.2 890.4 L168.5 888.5 M166.6 886.0 L167.6 886.7 L168.5 888.5 M168.8 890.9 L167.4 892.0 L165.8 892.3 M168.8 897.7 L167.6 896.7 L166.0 897.0 M168.8 890.9 L169.0 891.4 L170.7 892.1 M158.4 890.1 L159.4 891.3 L161.9 893.8 M159.3 896.5 L160.5 895.9 L161.3 895.4 M170.6 878.0 L167.4 878.2 L165.5 877.2 M170.6 878.0 L170.3 876.9 L170.4 874.7 M169.5 873.1 L167.1 873.3 L164.3 873.0 M169.5 873.1 L169.8 874.2 L170.4 874.7 M165.5 877.2 L164.4 875.1 L164.1 873.7 M164.1 873.7 L164.8 872.9 L164.3 873.0 M170.9 878.3 L170.5 878.6 L170.6 878.0 M170.9 878.3 L169.9 880.0 L169.5 882.0 M164.6 879.1 L165.7 877.6 L165.5 877.2 M169.5 882.0 L167.7 883.3 L166.8 883.4 M177.0 876.6 L175.4 877.3 L174.6 878.5 M174.6 878.5 L173.4 878.1 L170.9 878.3 M175.1 872.7 L176.9 874.2 L177.1 874.7 M175.1 872.7 L173.3 873.3 L170.4 874.7 M170.6 870.4 L168.9 869.8 L168.1 868.4 M170.6 870.4 L170.6 871.3 L169.5 873.1 M164.2 872.7 L163.8 872.4 L164.3 873.0 M173.9 869.4 L171.7 869.8 L170.6 870.4 M175.1 872.7 L174.5 871.3 L173.9 869.4 M161.5 875.1 L162.1 873.9 L164.1 873.7 M169.5 882.0 L170.4 882.9 L172.6 884.5 M168.5 888.5 L169.2 888.4 L171.0 886.8 M172.6 884.5 L171.6 885.1 L171.0 886.8 M174.6 878.5 L175.6 882.3 L176.0 884.5 M172.6 884.5 L174.7 884.7 L176.0 884.5 M173.0 892.0 L173.4 890.2 L174.2 888.7 M171.0 886.8 L172.3 888.2 L174.2 888.7 M179.8 883.6 L178.8 884.3 L176.8 885.2 M179.8 883.6 L181.0 883.9 L181.0 883.7 M181.0 883.7 L182.6 885.4 L183.7 887.9 M176.8 885.2 L176.4 884.8 L176.8 885.2 M176.8 885.2 L178.9 888.2 L179.6 890.2 M183.7 887.9 L182.5 889.6 L180.0 890.3 M180.0 890.3 L180.3 890.2 L179.6 890.2 M179.7 878.4 L180.2 880.5 L179.8 883.6 M176.0 884.5 L176.7 884.1 L176.8 885.2 M183.3 882.6 L182.9 883.8 L181.0 883.7 M186.1 888.0 L184.4 888.3 L183.7 887.9 M174.2 888.7 L176.0 886.2 L176.8 885.2 M175.7 893.5 L177.7 891.7 L179.6 890.2 M182.6 893.7 L181.5 892.6 L180.0 890.3 M173.9 869.4 L174.3 868.8 L174.0 869.2 M169.1 865.6 L171.3 866.3 L173.2 866.9 M174.0 869.2 L172.8 867.4 L173.2 866.9 M174.5 855.5 L173.1 855.7 L172.2 856.9 M174.7 851.8 L174.2 853.9 L174.5 855.5 M174.7 851.8 L173.1 851.5 L170.0 851.4 M170.3 855.8 L169.9 854.3 L169.0 851.9 M169.0 851.9 L169.8 851.9 L170.0 851.4 M170.9 843.9 L169.9 844.6 L170.5 844.1 M174.9 847.3 L172.2 848.3 L170.6 850.2 M170.5 844.1 L170.6 847.3 L170.6 850.2 M165.5 844.7 L166.2 844.5 L166.1 845.0 M170.5 844.1 L169.0 844.8 L166.1 845.0 M174.7 851.8 L176.1 850.8 L176.3 849.9 M170.6 850.2 L169.6 850.0 L170.0 851.4 M165.2 851.9 L166.1 851.3 L166.5 850.9 M165.2 851.9 L163.5 851.7 L162.1 852.1 M162.1 852.1 L160.3 850.2 L159.6 848.4 M159.6 848.4 L162.6 849.7 L166.4 849.8 M166.5 850.9 L165.9 851.1 L166.4 849.8 M165.0 856.8 L165.7 854.2 L165.2 851.9 M169.0 851.9 L168.2 851.6 L166.5 850.9 M160.2 854.5 L160.1 855.7 L160.0 855.9 M160.2 854.5 L161.7 852.8 L162.1 852.1 M161.3 858.8 L161.3 856.6 L160.0 855.9 M160.2 854.5 L157.9 853.2 L157.2 852.0 M157.3 851.5 L156.9 851.6 L157.2 852.0 M159.0 847.7 L159.2 848.0 L159.6 848.4 M166.1 845.0 L166.9 848.1 L166.4 849.8 M148.8 864.0 L148.6 863.3 L148.9 863.4 M143.1 861.4 L144.5 860.2 L145.3 860.0 M148.9 863.4 L146.9 862.0 L145.3 860.0 M153.3 849.5 L151.9 850.3 L152.1 850.1 M157.2 852.0 L155.9 852.9 L153.8 854.3 M153.8 854.3 L152.5 852.3 L152.1 850.1 M151.4 849.3 L151.3 850.2 L151.9 850.0 M152.1 850.1 L152.1 849.8 L151.9 850.0 M145.3 851.0 L145.9 849.5 L145.5 847.7 M145.3 851.0 L145.7 851.9 L147.2 853.1 M151.9 850.0 L149.5 852.3 L147.2 853.1 M271.3 842.4 L267.4 841.0 L264.7 839.7 L260.2 838.6 M268.1 823.0 L266.3 824.9 L263.4 827.5 L261.9 830.5 L259.0 832.9 M259.0 832.9 L259.1 834.9 L260.0 838.2 M260.2 838.6 L260.0 837.7 L260.0 838.2 M257.3 816.3 L254.6 819.1 L252.1 821.1 M259.0 832.9 L255.1 831.1 L251.8 830.3 M252.1 821.1 L251.7 823.6 L252.4 826.6 L251.8 830.3 M255.7 847.8 L252.3 845.5 L248.2 843.7 M255.7 847.8 L257.5 845.1 L258.1 842.1 L260.2 838.6 M260.0 838.2 L257.6 838.7 L253.9 838.7 L250.0 839.8 L247.3 839.8 M248.2 843.7 L248.3 841.3 L247.3 839.8 M187.2 876.3 L188.1 874.7 L190.3 873.6 M192.1 877.7 L192.9 876.4 L193.4 875.5 M193.4 875.5 L192.6 875.0 L190.3 873.6 M185.5 874.6 L186.4 872.7 L185.9 870.4 M185.9 870.4 L188.4 871.2 L190.1 870.6 M190.3 873.6 L189.4 872.2 L190.1 870.6 M183.4 807.6 L185.3 810.4 L187.9 812.6 L190.4 814.7 L193.2 816.8 M184.6 825.7 L187.8 824.8 L190.4 822.6 M193.2 816.8 L192.4 819.6 L190.4 822.6 M193.0 801.3 L195.0 803.5 L195.7 807.1 L198.6 809.9 L199.7 812.4 L201.3 814.9 M193.2 816.8 L197.6 816.0 L201.3 814.9 M213.4 817.7 L214.4 815.2 L215.6 812.3 L217.0 808.6 M213.4 817.7 L210.7 818.3 L207.5 818.8 L203.7 818.1 M207.9 805.8 L206.5 808.9 L203.4 812.3 L201.4 814.9 M203.7 818.1 L203.3 816.7 L201.4 814.9 M213.4 817.7 L214.9 819.8 L217.7 823.9 L220.0 826.3 M211.3 829.2 L214.8 828.1 L217.1 827.3 L220.0 826.3 M211.3 829.2 L207.1 826.8 L204.3 826.0 M203.7 818.1 L204.0 822.1 L204.3 826.0 M211.2 830.3 L209.2 832.8 L206.1 836.4 M211.3 829.2 L211.8 829.4 L211.2 830.3 M206.1 836.4 L204.1 834.5 L201.4 832.6 L199.9 829.6 M204.3 826.0 L202.8 828.6 L199.9 829.6 M201.3 814.9 L200.5 815.2 L201.4 814.9 M191.0 834.5 L194.8 832.7 L198.0 829.6 M191.0 834.5 L190.8 835.3 L191.5 837.3 M191.5 837.3 L193.0 838.3 L193.6 840.1 M199.8 838.1 L199.1 833.2 L199.7 829.7 M199.8 838.1 L197.8 839.3 L195.3 840.5 M195.3 840.5 L194.9 840.8 L193.6 840.1 M198.0 829.6 L198.1 830.4 L199.7 829.7 M185.9 831.6 L189.0 833.8 L191.0 834.5 M190.4 822.6 L193.4 824.8 L195.1 827.9 L198.0 829.6 M186.7 840.2 L189.0 838.7 L191.5 837.3 M190.1 845.2 L192.2 842.9 L193.6 840.1 M190.1 845.2 L189.0 845.6 L187.3 845.6 M204.1 840.5 L205.0 840.4 L205.8 839.4 M206.1 836.4 L205.8 837.5 L205.8 839.4 M199.9 829.6 L200.5 830.2 L199.7 829.7 M204.1 840.5 L202.3 838.8 L199.8 838.1 M205.7 890.7 L205.0 890.3 L205.7 888.5 M212.4 887.9 L210.9 887.1 L207.9 887.0 M205.7 888.5 L207.0 887.0 L207.9 887.0 M220.0 826.3 L220.7 826.7 L221.8 826.6 M212.5 837.7 L211.6 834.5 L211.2 830.3 M212.5 837.7 L214.7 837.0 L215.6 837.5 M215.6 837.5 L217.4 834.6 L218.2 831.8 L220.2 829.9 L221.8 826.6 M227.2 810.2 L227.1 812.6 L225.4 817.4 L225.6 820.0 L224.7 823.5 L224.3 826.2 M224.3 826.2 L223.8 826.5 L223.0 826.6 M221.8 826.6 L222.0 827.0 L223.0 826.6 M215.6 837.5 L217.0 837.9 L219.3 839.5 M223.0 826.6 L222.7 830.8 L221.7 833.6 L221.6 837.6 M221.6 837.6 L219.9 838.7 L219.3 839.5 M227.1 827.4 L226.2 826.2 L224.3 826.2 M227.1 827.4 L227.4 831.4 L226.9 835.4 L227.7 839.3 M221.6 837.6 L222.8 838.4 L224.7 840.2 M227.7 839.3 L227.0 839.1 L224.7 840.2 M141.8 852.6 L140.4 852.2 L139.5 851.6 M141.8 852.6 L142.0 853.6 L142.5 856.3 M142.5 856.3 L141.6 856.9 L139.5 858.4 M137.2 852.7 L138.2 852.8 L139.5 851.6 M137.2 852.7 L138.5 855.8 L138.2 857.5 M138.2 857.5 L138.7 858.3 L139.5 858.4 M145.3 851.0 L144.1 851.3 L141.8 852.6 M139.9 848.3 L140.5 849.3 L139.5 851.6 M147.2 853.1 L147.7 854.1 L147.6 855.9 M145.8 857.0 L146.2 855.9 L147.6 855.9 M145.8 857.0 L144.9 856.0 L142.5 856.3 M145.3 860.0 L146.2 858.0 L145.8 857.0 M139.9 860.8 L139.4 859.1 L139.5 858.4 M136.2 852.4 L137.5 851.9 L137.2 852.7 M134.9 858.2 L137.2 857.5 L138.2 857.5 M172.6 860.7 L174.1 861.7 L174.2 861.8 M173.2 866.9 L173.3 865.5 L174.1 864.1 M174.2 861.8 L173.6 862.8 L174.1 864.1 M154.1 855.5 L153.7 858.2 L154.9 860.3 M154.1 855.5 L154.0 854.9 L153.7 855.0 M153.7 855.0 L150.5 856.4 L148.9 856.4 M148.9 856.4 L149.1 858.4 L150.5 861.0 M154.9 860.3 L151.9 860.5 L150.5 861.0 M160.0 855.9 L156.9 855.8 L154.1 855.5 M155.4 860.7 L154.9 860.1 L154.9 860.3 M153.8 854.3 L154.2 854.3 L153.7 855.0 M147.6 855.9 L148.0 856.1 L148.9 856.4 M148.9 863.4 L149.3 862.5 L150.5 861.0 M240.4 815.8 L239.8 815.5 L240.5 815.8 M252.1 821.1 L248.1 820.2 L244.4 820.0 M240.5 815.8 L243.0 817.7 L244.4 820.0 M251.8 830.3 L249.5 831.2 L247.4 832.1 M244.4 820.0 L244.4 822.7 L243.8 827.1 L242.8 829.6 M247.4 832.1 L244.7 830.3 L242.8 829.6 M247.3 839.8 L247.4 838.8 L246.5 838.4 M247.4 832.1 L246.5 834.6 L246.5 838.4 M197.6 878.9 L197.6 878.1 L197.2 875.9 M195.5 880.6 L197.2 879.9 L197.6 878.9 M193.4 875.5 L194.3 875.6 L195.5 874.2 M197.2 875.9 L196.6 875.8 L195.5 874.2 M190.1 870.6 L190.9 870.6 L191.2 870.0 M191.2 870.0 L193.8 870.1 L195.7 871.4 M195.5 874.2 L195.2 872.1 L195.7 871.4 M231.3 841.3 L232.1 842.6 L231.5 842.2 M227.6 846.5 L229.7 843.8 L231.5 842.2 M227.7 839.3 L228.9 840.2 L231.3 841.3 M224.7 840.2 L224.3 841.9 L224.2 844.5 M227.6 846.5 L226.6 846.8 L227.0 846.7 M227.0 846.7 L226.1 844.9 L224.2 844.5 M218.8 841.2 L218.7 840.0 L219.3 839.5 M218.8 841.2 L221.0 843.1 L223.1 844.6 M223.1 844.6 L223.5 845.2 L224.2 844.5 M196.8 843.6 L195.0 844.9 L193.5 846.9 M196.8 843.6 L198.3 845.3 L199.0 845.9 M199.0 845.9 L198.7 847.4 L197.3 849.9 M197.3 849.9 L194.9 848.3 L193.5 846.9 M196.8 843.6 L196.8 842.2 L195.3 840.5 M190.1 845.2 L191.0 845.6 L191.6 846.6 M191.6 846.6 L193.3 846.3 L193.5 846.9 M187.5 849.0 L189.8 850.3 L191.8 850.9 M191.6 846.6 L192.2 849.3 L191.8 850.9 M186.9 852.0 L188.9 851.7 L191.3 852.2 M191.3 852.2 L192.4 851.8 L192.0 851.2 M191.8 850.9 L191.5 850.5 L192.0 851.2 M196.1 884.0 L198.7 883.7 L200.2 882.2 M199.2 887.5 L200.7 886.2 L202.1 885.3 M202.1 885.3 L201.4 884.5 L200.2 882.2 M205.7 888.5 L204.7 887.4 L203.5 885.4 M202.1 885.3 L203.4 885.8 L203.5 885.4 M197.6 878.9 L199.0 879.0 L200.4 880.2 M200.2 882.2 L200.7 881.7 L200.4 880.2 M227.8 880.7 L229.2 879.4 L229.2 879.2 M229.2 879.2 L228.2 876.2 L228.5 872.8 M224.5 881.3 L222.6 877.8 L219.7 875.6 M219.7 875.6 L222.8 874.3 L226.3 873.5 L228.5 872.8 M244.2 847.3 L245.5 846.0 L248.2 843.7 M244.2 847.3 L246.2 849.6 L248.2 851.8 L251.1 854.4 M255.7 847.8 L255.6 849.6 L256.6 852.2 M251.1 854.4 L254.0 853.0 L256.6 852.2 M267.7 870.7 L264.7 869.4 L261.2 866.0 L257.7 864.8 M252.6 879.4 L252.6 877.1 L251.1 875.8 M251.1 875.8 L250.9 871.8 L251.2 867.7 M257.7 864.8 L254.7 866.0 L251.2 867.7 M270.3 853.3 L266.4 853.7 L262.6 853.4 L258.9 853.9 M257.7 864.8 L258.0 861.0 L258.2 857.7 L258.9 853.9 M258.9 853.9 L257.8 852.9 L256.6 852.2 M174.5 855.5 L176.9 856.4 L178.6 856.4 M174.2 861.8 L175.9 861.4 L177.1 861.4 M177.1 861.4 L178.5 858.3 L178.6 856.4 M179.4 854.3 L180.0 854.9 L179.6 855.8 M178.6 856.4 L178.9 856.7 L179.6 855.8 M231.3 828.2 L232.2 828.9 L232.5 828.0 M231.3 828.2 L232.5 831.0 L232.4 835.5 L232.9 838.5 M232.5 828.0 L234.4 829.1 L237.7 830.0 M237.7 830.0 L239.0 833.7 L238.6 838.3 M232.9 838.5 L235.2 838.1 L238.6 838.3 M227.1 827.4 L229.0 827.4 L231.3 828.2 M240.5 815.8 L238.3 819.4 L236.5 822.1 L233.8 824.3 L232.5 828.0 M231.3 841.3 L232.8 839.7 L232.9 838.5 M242.8 829.6 L241.0 829.5 L237.7 830.0 M246.5 838.4 L243.5 839.4 L240.0 839.9 M240.0 839.9 L238.7 838.4 L238.6 838.3 M191.2 866.9 L191.1 867.8 L191.2 870.0 M191.2 866.9 L192.8 865.4 L195.1 864.9 M195.7 871.4 L195.7 871.1 L196.2 870.9 M196.2 870.9 L196.0 868.5 L196.4 866.6 M195.1 864.9 L195.7 866.1 L196.4 866.6 M204.1 840.5 L203.1 843.1 L203.7 844.1 M199.0 845.9 L200.6 846.2 L202.5 845.1 M202.5 845.1 L202.3 843.9 L203.7 844.1 M231.4 854.1 L230.9 852.3 L231.6 849.1 M227.6 846.5 L229.5 848.4 L231.6 849.1 M231.4 854.1 L229.4 852.8 L226.7 852.9 M227.0 846.7 L226.7 846.6 L226.8 847.0 M226.7 852.9 L226.7 850.4 L226.8 847.0 M218.8 841.2 L217.2 842.7 L217.0 842.9 M212.5 837.7 L211.9 838.7 L211.3 840.1 M217.0 842.9 L214.4 841.1 L211.3 840.1 M205.8 839.4 L208.9 839.6 L211.3 840.1 M211.3 840.1 L211.2 839.6 L211.3 840.1 M223.1 844.6 L220.7 846.6 L219.2 847.5 M226.8 847.0 L224.4 848.4 L221.6 850.0 M219.2 847.5 L220.9 849.4 L221.6 850.0 M226.7 852.9 L223.9 855.3 L222.1 856.0 M221.6 850.0 L221.1 853.2 L222.1 856.0 M219.3 875.5 L218.9 875.1 L219.2 875.4 M216.4 870.1 L217.8 872.9 L219.2 875.4 M216.4 870.1 L216.8 868.4 L217.4 866.0 M219.5 875.5 L220.1 875.0 L219.3 875.5 M219.5 875.5 L221.0 872.9 L223.1 869.6 L225.1 867.1 M217.4 866.0 L221.3 866.9 L225.1 867.1 M207.9 887.0 L209.1 885.8 L208.9 883.2 M203.5 885.4 L205.4 883.3 L206.2 881.7 M206.2 881.7 L208.2 882.8 L208.9 883.2 M214.0 885.8 L211.4 885.3 L209.7 883.3 M209.7 883.3 L208.9 883.5 L208.9 883.2 M215.8 885.2 L215.9 883.0 L215.4 879.6 M209.7 883.3 L211.0 882.3 L211.7 879.8 M215.4 879.6 L212.9 878.9 L211.7 879.8 M219.7 875.6 L219.1 875.7 L219.5 875.5 M219.3 875.5 L217.3 876.8 L215.5 879.4 M215.4 879.6 L215.0 879.6 L215.5 879.4 M197.3 849.9 L197.1 850.9 L197.3 851.0 M192.0 851.2 L194.3 851.9 L196.8 851.4 M197.3 851.0 L197.5 851.2 L196.8 851.4 M251.2 867.7 L249.4 866.1 L248.1 865.4 M248.1 865.4 L246.7 862.4 L245.9 859.9 M251.1 854.4 L249.0 855.3 L247.4 857.2 M247.4 857.2 L246.6 857.9 L245.9 859.9 M243.8 847.5 L244.4 850.1 L243.7 852.6 M244.2 847.3 L243.4 847.1 L243.8 847.5 M247.4 857.2 L245.2 854.4 L243.7 852.6 M227.6 862.1 L227.7 863.3 L227.9 865.5 M232.4 857.9 L229.4 860.3 L227.6 862.1 M237.6 862.4 L234.9 860.4 L232.4 857.9 M237.6 862.4 L237.2 863.9 L236.8 865.3 M236.8 865.3 L232.0 865.3 L227.9 865.5 M228.5 872.8 L228.8 871.6 L229.2 871.0 M225.1 867.1 L226.8 866.4 L227.5 866.5 M229.2 871.0 L227.9 868.5 L227.5 866.5 M236.2 854.0 L237.5 854.6 L238.0 854.2 M236.2 854.0 L236.0 850.6 L235.5 847.6 M235.5 847.6 L236.4 847.0 L236.8 845.3 M238.0 854.2 L238.1 854.0 L239.0 853.3 M239.0 853.3 L240.4 850.0 L241.2 847.0 M241.2 847.0 L239.1 846.2 L238.2 845.0 M236.8 845.3 L237.0 844.9 L238.2 845.0 M241.9 859.5 L240.0 857.6 L238.0 854.2 M237.6 862.4 L239.2 860.3 L241.9 859.5 M232.9 855.5 L234.6 855.4 L236.2 854.0 M232.4 857.9 L231.9 856.9 L232.9 855.5 M231.4 854.1 L231.4 854.9 L232.9 855.5 M231.6 849.1 L232.9 848.6 L235.5 847.6 M231.5 842.2 L233.9 844.0 L236.8 845.3 M241.9 859.5 L243.5 859.0 L245.9 859.9 M243.7 852.6 L240.8 852.6 L239.0 853.3 M243.8 847.5 L242.0 846.8 L241.2 847.0 M240.0 839.9 L239.2 842.3 L238.2 845.0 M185.4 855.0 L184.1 855.7 L181.7 856.5 M185.4 855.0 L186.8 856.5 L188.1 857.4 M181.7 856.5 L182.6 858.8 L182.3 860.8 M188.1 857.4 L187.0 859.2 L187.3 861.1 M187.3 861.1 L185.1 862.1 L184.4 862.7 M184.4 862.7 L182.7 861.8 L182.3 860.8 M185.4 853.7 L184.8 854.9 L185.4 855.0 M179.6 855.8 L180.0 856.4 L181.7 856.5 M191.3 852.2 L191.4 854.0 L190.9 856.6 M190.9 856.6 L189.7 856.7 L188.1 857.4 M177.7 861.8 L179.6 860.9 L182.3 860.8 M177.1 861.4 L176.6 861.9 L177.7 861.8 M189.3 862.7 L190.2 862.0 L192.4 862.2 M189.3 862.7 L187.7 862.4 L187.3 861.1 M190.9 856.6 L191.8 856.8 L192.5 857.2 M192.4 862.2 L192.6 860.2 L192.5 857.2 M189.7 865.7 L189.7 864.2 L189.3 862.7 M189.7 865.7 L190.2 866.3 L191.2 866.9 M195.1 864.9 L195.9 864.4 L195.0 863.7 M192.4 862.2 L193.7 863.5 L195.0 863.7 M196.8 851.4 L195.5 853.4 L195.6 856.8 M192.5 857.2 L194.6 857.7 L195.6 856.8 M196.2 870.9 L197.0 870.2 L199.2 870.9 M201.6 867.9 L199.6 869.6 L199.2 870.9 M196.4 866.6 L198.0 866.3 L200.7 865.9 M201.6 867.9 L201.7 866.4 L201.2 866.5 M201.2 866.5 L201.5 865.8 L200.7 865.9 M203.7 844.1 L205.8 845.0 L207.8 846.4 M211.3 840.1 L210.8 842.0 L210.9 844.2 M207.8 846.4 L208.5 845.2 L210.9 844.2 M200.4 880.2 L200.8 879.5 L202.0 879.3 M206.2 881.7 L205.6 880.9 L206.0 880.6 M202.0 879.3 L204.3 880.7 L206.0 880.6 M197.2 875.9 L199.2 876.0 L202.1 874.9 M202.0 879.3 L202.2 876.4 L202.1 874.9 M211.7 879.8 L209.1 879.1 L208.0 877.1 M206.0 880.6 L206.6 878.2 L208.0 877.1 M199.2 870.9 L201.3 872.8 L202.8 873.9 M202.1 874.9 L203.1 874.4 L202.8 873.9 M206.0 852.9 L204.0 849.1 L202.6 845.9 M206.0 852.9 L205.2 853.2 L205.5 853.1 M202.6 845.9 L202.7 848.4 L201.3 852.3 M205.5 853.1 L203.2 852.5 L201.3 852.3 M202.5 845.1 L201.9 845.7 L202.6 845.9 M197.3 851.0 L200.0 851.3 L201.2 852.3 M201.2 852.3 L201.6 852.9 L201.3 852.3 M222.1 856.0 L221.7 856.8 L222.0 856.2 M227.6 862.1 L225.3 860.0 L222.2 857.4 M222.0 856.2 L221.6 856.4 L222.2 857.4 M239.5 869.8 L241.0 872.7 L243.7 874.4 M239.5 869.8 L239.7 869.1 L239.0 869.7 M239.0 869.7 L237.8 870.7 L236.4 872.5 M236.4 872.5 L236.9 875.7 L236.5 878.6 M243.7 874.4 L241.8 877.9 L238.4 880.6 M238.4 880.6 L236.8 879.4 L236.5 878.6 M251.1 875.8 L247.6 875.8 L243.7 874.4 M248.1 865.4 L245.0 866.4 L242.0 867.9 L239.5 869.8 M236.8 865.3 L237.3 867.3 L239.0 869.7 M227.9 865.5 L227.3 866.0 L227.5 866.5 M229.2 871.0 L233.4 872.5 L236.4 872.5 M229.2 879.2 L232.3 879.0 L236.5 878.6 M238.9 881.7 L238.9 880.6 L238.4 880.6 M174.1 864.1 L175.6 864.4 L176.9 865.8 M177.7 861.8 L178.0 862.6 L178.7 863.9 M178.7 863.9 L178.3 864.4 L176.9 865.8 M174.0 869.2 L175.6 868.8 L177.0 868.2 M177.0 868.2 L176.7 867.7 L176.9 865.8 M196.5 861.8 L195.9 859.2 L195.8 857.0 M196.5 861.8 L199.3 861.9 L201.4 862.0 M195.8 857.0 L198.2 856.7 L199.8 857.5 M199.8 857.5 L200.9 859.1 L203.0 859.9 M201.4 862.0 L202.1 861.8 L203.1 860.4 M203.1 860.4 L202.7 859.7 L203.0 859.9 M195.0 863.7 L196.4 862.5 L196.5 861.8 M195.6 856.8 L195.1 856.5 L195.8 857.0 M200.7 865.9 L201.5 863.6 L201.4 862.0 M201.2 852.3 L200.6 855.4 L199.8 857.5 M205.5 853.1 L204.4 856.9 L203.0 859.9 M201.2 866.5 L204.5 865.6 L206.3 865.5 M206.3 865.5 L205.7 863.2 L203.9 860.7 M203.9 860.7 L203.0 860.0 L203.1 860.4 M207.8 846.4 L207.8 847.7 L208.4 850.2 M206.2 852.8 L207.7 852.3 L208.3 851.5 M206.2 852.8 L205.4 853.4 L206.0 852.9 M208.3 851.5 L208.5 850.8 L208.4 850.2 M210.9 844.2 L211.6 845.3 L213.6 846.5 M208.4 850.2 L211.7 848.5 L213.6 846.5 M208.1 875.4 L206.5 874.5 L205.0 873.2 M208.1 875.4 L209.1 875.2 L210.0 874.5 M210.1 874.4 L209.6 873.9 L210.0 874.5 M210.1 874.4 L210.2 873.2 L212.0 871.0 M205.0 873.2 L204.4 871.3 L205.3 870.2 M212.0 871.0 L210.3 869.0 L208.4 866.9 M205.3 870.2 L207.3 868.2 L208.0 867.0 M208.4 866.9 L207.6 866.4 L208.0 867.0 M208.0 877.1 L208.0 875.9 L208.1 875.4 M202.8 873.9 L203.8 873.8 L205.0 873.2 M215.5 879.4 L212.5 877.2 L210.0 874.5 M219.2 875.4 L215.4 875.2 L213.8 875.5 L210.1 874.4 M216.4 870.1 L214.3 871.3 L212.0 871.0 M201.6 867.9 L203.0 868.8 L205.3 870.2 M206.3 865.5 L207.1 866.3 L208.0 867.0 M180.9 866.0 L181.3 867.2 L180.6 868.6 M180.9 866.0 L181.9 864.9 L184.3 863.1 M184.3 863.1 L184.9 865.8 L186.4 867.2 M181.0 869.2 L180.3 868.6 L180.6 868.6 M181.0 869.2 L182.8 869.4 L185.7 870.1 M185.7 870.1 L186.2 868.3 L186.4 867.2 M178.7 863.9 L179.1 865.1 L180.9 866.0 M177.0 868.2 L179.2 867.8 L180.6 868.6 M184.4 862.7 L184.2 862.2 L184.3 863.1 M189.7 865.7 L187.3 866.3 L186.4 867.2 M179.6 872.9 L180.0 871.6 L181.0 869.2 M185.9 870.4 L185.1 870.5 L185.7 870.1 M215.4 847.2 L214.7 848.9 L213.2 850.8 M215.4 847.2 L216.0 846.6 L216.7 846.9 M216.7 846.9 L216.6 846.4 L217.4 847.3 M217.4 847.3 L218.2 850.1 L217.6 854.3 M213.2 850.8 L214.7 852.9 L217.3 854.4 M217.3 854.4 L217.4 854.4 L217.6 854.3 M209.9 852.0 L208.8 851.2 L208.3 851.5 M209.9 852.0 L212.1 850.8 L213.2 850.8 M213.6 846.5 L214.2 847.2 L215.4 847.2 M217.0 842.9 L216.5 845.6 L216.7 846.9 M219.2 847.5 L217.8 847.4 L217.4 847.3 M222.0 856.2 L219.9 855.3 L217.6 854.3 M213.2 856.5 L212.0 853.6 L209.9 852.0 M213.2 856.5 L215.3 855.9 L217.3 854.4 M212.9 857.5 L212.4 858.2 L213.3 858.7 M212.9 857.5 L210.9 857.7 L209.0 858.1 M213.3 858.7 L211.7 860.7 L210.0 862.4 M209.0 858.1 L208.7 859.8 L207.7 860.1 M207.7 860.1 L209.1 862.0 L210.0 862.4 M213.2 856.5 L213.3 856.6 L212.9 857.5 M206.2 852.8 L207.1 854.8 L209.0 858.1 M203.9 860.7 L205.4 859.8 L207.7 860.1 M208.4 866.9 L209.8 866.1 L210.6 864.7 M210.6 864.7 L210.5 863.4 L210.0 862.4 M217.4 862.5 L215.4 860.3 L213.5 859.0 M217.4 862.5 L217.9 863.1 L217.0 865.2 M213.5 859.0 L212.3 862.0 L211.6 864.7 M217.0 865.2 L213.8 865.5 L211.6 864.7 M213.3 858.7 L213.4 858.6 L213.5 859.0 M222.2 857.4 L219.1 859.6 L217.4 862.5 M217.4 866.0 L217.3 865.3 L217.0 865.2 M210.6 864.7 L210.4 864.9 L211.6 864.7" fill="none" stroke="#c0c0c0" stroke-width=".6" stroke-dasharray="1.2 .5" clip-path="url(#landclip)"/>
<path d="M144.0 843.5 L150.0 840.5 L156.0 842.0 L157.5 846.5 L153.0 845.5 L151.0 843.5 L146.0 846.0 Z" fill="#e6e6e6" stroke="#d3dbe6" stroke-width=".5"/>
<path d="M180.0 804.8 L183.1 806.9 L179.0 812.0 L175.9 819.2 L175.9 826.4 L178.5 830.6 L190.0 831.0 L190.0 833.0 L179.0 834.7 L175.9 840.8 L177.0 847.0 L175.9 851.1 L168.7 852.2 L164.6 850.1 L163.6 846.0 L169.7 838.8 L170.8 832.6 L172.8 824.4 L173.9 816.2 L175.9 810.0 Z" fill="#e6e6e6" stroke="#d3dbe6" stroke-width=".5"/>
<path d="M190.0 884.0 L196.0 880.0 L203.0 881.0 L209.0 879.0 L215.0 884.0 L214.0 889.0 L206.0 892.0 L196.0 893.0 L191.0 890.0 Z" fill="#e6e6e6" stroke="#d3dbe6" stroke-width=".5"/>
<path d="M233.0 876.0 L236.0 875.0 L238.0 879.0 L241.0 884.0 L242.0 895.0 L232.0 895.0 L234.0 887.0 L232.0 881.0 Z" fill="#e6e6e6" stroke="#d3dbe6" stroke-width=".5"/>
<path d="M137.0 896.0 L139.0 889.0 L143.0 886.0 L148.0 885.5 L152.0 886.0 L153.0 890.0 L151.0 896.0 Z" fill="#e6e6e6" stroke="#d3dbe6" stroke-width=".5"/>
<path d="M154.0 896.0 L155.0 889.0 L158.0 887.0 L162.0 890.0 L164.0 896.0 Z" fill="#e6e6e6" stroke="#d3dbe6" stroke-width=".5"/>
<path d="M158.0 881.5 L161.0 882.0 L166.0 886.0 L171.0 891.0 L173.0 896.0 L168.0 896.0 L163.0 888.5 L159.0 884.5 Z" fill="#e6e6e6" stroke="#d3dbe6" stroke-width=".5"/>
<path d="M658.0 834.0 L658.5 824.7 L663.7 817.5 L670.9 814.4 L675.0 815.4 L677.0 810.3 L675.0 804.1 L677.0 798.0 L682.0 792.0 L690.0 791.0 L694.0 796.0 L697.0 803.0 L703.0 806.0 L710.0 808.0 L716.0 812.0 L716.2 818.5 L718.2 829.8 L714.1 836.0 L712.0 826.8 L705.9 820.6 L697.6 812.0 L693.5 820.6 L692.5 830.9 L694.5 841.2 L691.5 849.4 L690.4 857.6 L688.4 861.7 L685.3 858.7 L683.2 852.5 L679.1 847.3 L670.9 844.3 L663.7 841.2 L659.6 837.0 Z" fill="#e6e6e6" stroke="#d3dbe6" stroke-width=".5"/>
<path d="M295.9 761.8 L295.9 772 L301 782.2 L302.7 794.1 L297.6 806 L301 816.2 L304.4 826.5 M352 760.1 L355.5 777.1 L345.3 787.3 L342.7 800.9 L345.3 811.1 L348.7 814.5 M386.1 765.2 L394.6 780.5 L403.1 797.5 L406.5 819.6 L399.7 833.3 M437.1 780.5 L437.1 806 L445.6 811.1 L457.5 809.4 M421.8 812.8 L437.1 806 M275 805 L285 812 L296 808 M318 790 L326 800 L322 812 L330 822 M368 775 L372 790 L366 805 L372 820" fill="none" stroke="#c0c0c0" stroke-width=".6" stroke-dasharray="1.2 .5"/>
<path d="M566.7 785.6 L567 830.7 M567.7 786 L575 795 L585 808 L593 820 L601.3 831.2 M568 831.2 L658.5 831.2 M609.2 831.2 L609.5 845 L614 855 L618 862 L621 869 M629 831.2 L629 869 M644.8 831.2 L644.8 869 M645 831.2 L645 813.4 L630 806 L615 797 L608 792 M658.7 869 L658.7 842 L660 838 M689.4 848 L689.4 872 M603 869 L658 869 L664 871 L672 873 L680 876 L690 878 L700 880 M603 877.9 L703 877.9 M603 880.9 L660 880.9 M610 886 L700 886 M603 889.4 L703 889.4 M610.9 869 L610.9 895 M617.7 869 L617.7 895 M626.2 869 L626.2 895 M638.1 869 L638.1 895 M655.1 869 L655.1 895 M661.9 877 L661.9 895 M672 880 L672 895 M684 884 L684 895 M694 880 L694 895 M700 860 L712 858 L718 850 L722 846 M706 868 L716 868" fill="none" stroke="#c9c9c9" stroke-width=".55" stroke-dasharray="1.2 .5"/>
<path d="M600 801 L606 799 L612 800 L614.5 804 L611 806 L609 809.5 L604 808 L601 805 Z" fill="#e6e6e6" stroke="#c9d3e0" stroke-width=".5"/>
<path d="M611 826.5 L617 822 L624 819.5 L631 818 L630 820.5 L624 823 L618 826 L613 828 Z" fill="#e6e6e6" stroke="#c9d3e0" stroke-width=".5"/>
<path d="M641.5 838.4 L644 838 L646.5 843 L645 845.2 L642.5 842 Z M626 834.5 L631 833.4 L636.4 834 L633 836.2 L627 836.5 Z" fill="#e6e6e6" stroke="#c9d3e0" stroke-width=".5"/>
<path d="M672.0 798.0 L676.0 800.0 L684.0 803.0 L689.5 808.0 L688.0 815.0 L680.0 815.0 L674.0 810.0 Z" fill="#fff" stroke="#d3dbe6" stroke-width=".6"/>
<path d="M600.7 756.1 L612.8 757.5 L615.5 760.8 L610.8 766.2 L606.8 771.6 L604.8 777.0 L600.7 775.6 L597.4 771.6 L598.7 764.9 L600.1 759.5 Z" fill="#fff" stroke="#d3dbe6" stroke-width=".6"/>
<path d="M613.5 738.0 L627.6 738.0 L628.3 746.7 L625.6 750.1 L621.6 753.4 L620.9 749.4 L614.2 749.4 L612.8 746.1 Z" fill="#fff" stroke="#d3dbe6" stroke-width=".6"/>
<path d="M628.6 738.0 L635.7 738.0 L635.0 744.7 L633.0 748.1 L630.3 750.8 L628.9 751.4 Z" fill="#fff" stroke="#d3dbe6" stroke-width=".6"/>
<path d="M612.1 766.2 L617.5 764.9 L623.6 767.5 L628.6 767.5 L631.0 774.3 L633.6 774.3 L633.0 763.5 L635.7 760.8 L638.3 766.2 L643.0 775.6 L645.1 785.0 L639.0 789.0 L632.3 790.4 L622.9 785.0 L618.9 781.0 L612.1 779.6 L610.1 775.6 L610.8 770.2 Z" fill="#fff" stroke="#d3dbe6" stroke-width=".6"/>
<path d="M647.1 760.2 L652.4 760.2 L656.5 766.2 L655.8 775.6 L650.4 775.6 L645.7 768.2 Z" fill="#fff" stroke="#d3dbe6" stroke-width=".6"/>
<path d="M657.8 759.5 L665.2 758.8 L667.0 760.2 L668.0 770.0 L667.0 778.3 L663.2 785.0 L659.2 785.0 L656.5 775.6 L657.1 766.2 Z" fill="#fff" stroke="#d3dbe6" stroke-width=".6"/>
<path d="M654.5 750.1 L657.8 746.7 L660.5 748.7 L659.2 752.8 L655.8 752.8 Z" fill="#fff" stroke="#d3dbe6" stroke-width=".6"/>
<path d="M662.5 738.0 L667.0 738.0 L667.0 748.0 L665.5 755.0 L662.5 754.7 Z" fill="#fff" stroke="#d3dbe6" stroke-width=".6"/>
<path d="M665.3 748.8 L672.0 746.3 L678.7 745.5 L685.3 746.3 L686.2 751.3 L682.0 753.8 L672.0 753.8 L667.0 752.2 Z" fill="#fff" stroke="#d3dbe6" stroke-width=".6"/>
<path d="M669.5 763.0 L677.0 761.3 L687.0 760.5 L693.7 764.7 L698.7 774.7 L707.8 781.3 L712.0 788.0 L720.3 798.0 L722.0 803.0 L718.7 808.8 L712.0 804.7 L710.3 801.3 L703.7 796.3 L697.0 791.3 L691.2 783.8 L683.7 784.7 L678.7 785.5 L672.8 779.7 L668.7 774.7 L667.8 768.0 Z" fill="#fff" stroke="#d3dbe6" stroke-width=".6"/>
<path d="M662 874 L670 871 L676 875 L672 877 L664 877 Z M680 878 L684 872 L687 880 L683 886 Z M688 882 L696 881 L694 885 L688 886 Z" fill="#e6e6e6" stroke="#c9d3e0" stroke-width=".5"/>
<path d="M351 847.5 Q346 854 339.5 861" fill="none" stroke="#c9d3e0" stroke-width="1.6"/></g></defs>
<g clip-path="url(#mc)"><rect x="15" y="740" width="1352" height="160" fill="#e6e6e6"/>
<use href="#tile" transform="translate(-712 0)"/>
<use href="#tile" transform="translate(0 0)"/>
<use href="#tile" transform="translate(712 0)"/>
<use href="#tile" transform="translate(1424 0)"/>
<g transform="translate(0 0)"><path d="M156.5 864.8 L159 863.5 L162.5 863 L165.5 864 L168 864.3 L171 866 L169 868.5 L166 870 L162 870.5 L159 868.5 Z" fill="#f7dfb5" stroke="#8f8a80" stroke-width=".6"/><path d="M161.5 863.2 L163 866 L162 870 M166 864.2 L166.5 867 L165 869.8" fill="none" stroke="#8f8a80" stroke-width=".6"/><path d="M173 878 L175.5 874.5 L178 872 L182 871.5 L185 872.5 L188 871 L190 874 L191 877.5 L192.5 880 L191 882.5 L188 884.5 L183 885 L178 884 L175.5 881.5 Z" fill="#ea7a62" stroke="#a8503f" stroke-width=".7"/><path d="M179.3 877.2 L181.6 875.2 L181.6 882.6 M184.3 877.2 L186.6 875.2 L186.6 882.6" fill="none" stroke="#8e8886" stroke-width="1.7" stroke-linejoin="round"/></g>
<g transform="translate(712 0)"><path d="M156.5 864.8 L159 863.5 L162.5 863 L165.5 864 L168 864.3 L171 866 L169 868.5 L166 870 L162 870.5 L159 868.5 Z" fill="#f7dfb5" stroke="#8f8a80" stroke-width=".6"/><path d="M161.5 863.2 L163 866 L162 870 M166 864.2 L166.5 867 L165 869.8" fill="none" stroke="#8f8a80" stroke-width=".6"/><path d="M173 878 L175.5 874.5 L178 872 L182 871.5 L185 872.5 L188 871 L190 874 L191 877.5 L192.5 880 L191 882.5 L188 884.5 L183 885 L178 884 L175.5 881.5 Z" fill="#ea7a62" stroke="#a8503f" stroke-width=".7"/><path d="M179.3 877.2 L181.6 875.2 L181.6 882.6 M184.3 877.2 L186.6 875.2 L186.6 882.6" fill="none" stroke="#8e8886" stroke-width="1.7" stroke-linejoin="round"/></g>
<text x="310" y="866" font-size="9.6" font-weight="bold" fill="#6b6b6b" text-anchor="middle" stroke="#fff" stroke-width="1.2" paint-order="stroke">ASIA</text>
<text x="630" y="861.2" font-size="9.6" font-weight="bold" fill="#6b6b6b" text-anchor="middle" stroke="#fff" stroke-width="1.2" paint-order="stroke">NORTH</text>
<text x="630" y="872.4" font-size="9.6" font-weight="bold" fill="#6b6b6b" text-anchor="middle" stroke="#fff" stroke-width="1.2" paint-order="stroke">AMERICA</text>
<text x="1022" y="866" font-size="9.6" font-weight="bold" fill="#6b6b6b" text-anchor="middle" stroke="#fff" stroke-width="1.2" paint-order="stroke">ASIA</text>
<text x="1342" y="861.2" font-size="9.6" font-weight="bold" fill="#6b6b6b" text-anchor="middle" stroke="#fff" stroke-width="1.2" paint-order="stroke">NORTH</text>
<text x="1342" y="872.4" font-size="9.6" font-weight="bold" fill="#6b6b6b" text-anchor="middle" stroke="#fff" stroke-width="1.2" paint-order="stroke">AMERICA</text>
</g>
<g><rect x="23" y="748" width="22" height="42" rx="3" fill="#fff" style="filter:drop-shadow(0 1px 3px rgba(0,0,0,.18))"/><rect x="23" y="796" width="22" height="21" rx="3" fill="#fff" style="filter:drop-shadow(0 1px 3px rgba(0,0,0,.18))"/><rect x="23" y="822" width="22" height="22" rx="3" fill="#fff" style="filter:drop-shadow(0 1px 3px rgba(0,0,0,.18))"/><circle cx="34" cy="757.9" r="4.9" fill="#343741"/><path d="M31.6 757.9 H36.4 M34 755.5 V760.3" stroke="#fff" stroke-width="1.1"/><circle cx="34" cy="779.9" r="4.9" fill="#343741"/><path d="M31.6 779.9 H36.4" stroke="#fff" stroke-width="1.3"/><circle cx="34" cy="806.3" r="3.7" fill="none" stroke="#343741" stroke-width=".85" stroke-dasharray="1.7 1.2" transform="rotate(22 34 806.3)"/><circle cx="34" cy="806.3" r=".65" fill="#343741"/><path d="M34 801.4 V803.2 M34 809.4 V811.2 M29.1 806.3 H30.9 M37.1 806.3 H38.9" stroke="#343741" stroke-width=".85"/><path d="M30 837 L38 829 M30 837 V834 M30 837 H33 M38 829 V832 M38 829 H35" stroke="#343741" stroke-width=".9" fill="none"/></g>
<rect x="1337" y="748" width="22" height="21" rx="2.5" fill="#fff" style="filter:drop-shadow(0 1px 3px rgba(0,0,0,.15))"/><path d="M1343 757.5 L1345 755.5 M1343 757.5 L1345 759.5 M1343 757.5 H1346 M1347.5 755 H1354 M1347.5 757.5 H1354 M1347.5 760 H1354" stroke="#343741" stroke-width=".9" fill="none"/>
<path d="M1640 915.6 L1640 745.6 A170 170 0 0 1 1810 915.6 Z" fill="#e9edf5"/>
<path d="M1640 915.6 L1470 915.6 A170 170 0 0 1 1640 745.6 Z" fill="#6092c0"/>
<text x="1678.4" y="821.2" font-size="10" fill="#5a5e66">RO <tspan font-weight="bold" fill="#343741" letter-spacing=".25">30.56%</tspan></text>
</svg></div>
<div class="a" style="left:1876px;top:89px;width:17px;height:805px;background:#eff0f4"></div>
<svg class="a" style="left:1876px;top:89px" width="17" height="805" viewBox="0 0 17 805">
<path d="M4.8 11.1 L8.5 6.9 L12.2 11.1 Z" fill="#a3a7b1"/>
<rect x="2" y="17" width="13" height="361" fill="#adb0b9"/>
<path d="M4.8 793.8 L8.5 798 L12.2 793.8 Z" fill="#a3a7b1"/>
</svg>
<div class="a" style="left:1893px;top:56px;width:17px;height:838px;background:#f1f1f1"></div>
<svg class="a" style="left:1893px;top:56px" width="17" height="838" viewBox="0 0 17 838">
<path d="M4.8 11 L8.5 6.8 L12.2 11 Z" fill="#a3a3a3"/>
<rect x="2" y="17" width="13" height="794" fill="#c1c1c1"/>
<path d="M4.8 826.8 L8.5 831 L12.2 826.8 Z" fill="#505050"/>
</svg>
<div class="a" style="left:0;top:912px;width:1919px;height:1px;background:#f7f7f8"></div><div class="a" style="left:0;top:913px;width:1919px;height:1px;background:#b5bbc4"></div>
<div class="a" style="left:0;top:914px;width:1919px;height:9px;background:linear-gradient(90deg,#e1ecf7 0%,#dae5f6 20%,#d3dff6 33%,#d4ddf4 55%,#d7e0f5 66%,#dde8f7 82%,#e0ebf7 100%)"></div>
<div class="a" style="left:467px;top:921.5px;width:196px;height:6px;background:#fbfcfe;border-radius:4px;border:1px solid #c3cde0"></div>
<div class="a" style="left:944px;top:917.5px;width:37px;height:8px;background:#e9eef8;border-radius:3px"></div>
<div class="a" style="left:965px;top:920px;width:13px;height:13px;border-radius:50%;background:#6f7a68"></div>
<div class="a" style="left:1405px;top:920px;width:13px;height:13px;border-radius:50%;background:#d63a3a"></div>
<div class="a" style="left:1657px;top:917px;width:31px;height:10px;border-radius:3px;background:#0a64c8"></div>
</body></html>
